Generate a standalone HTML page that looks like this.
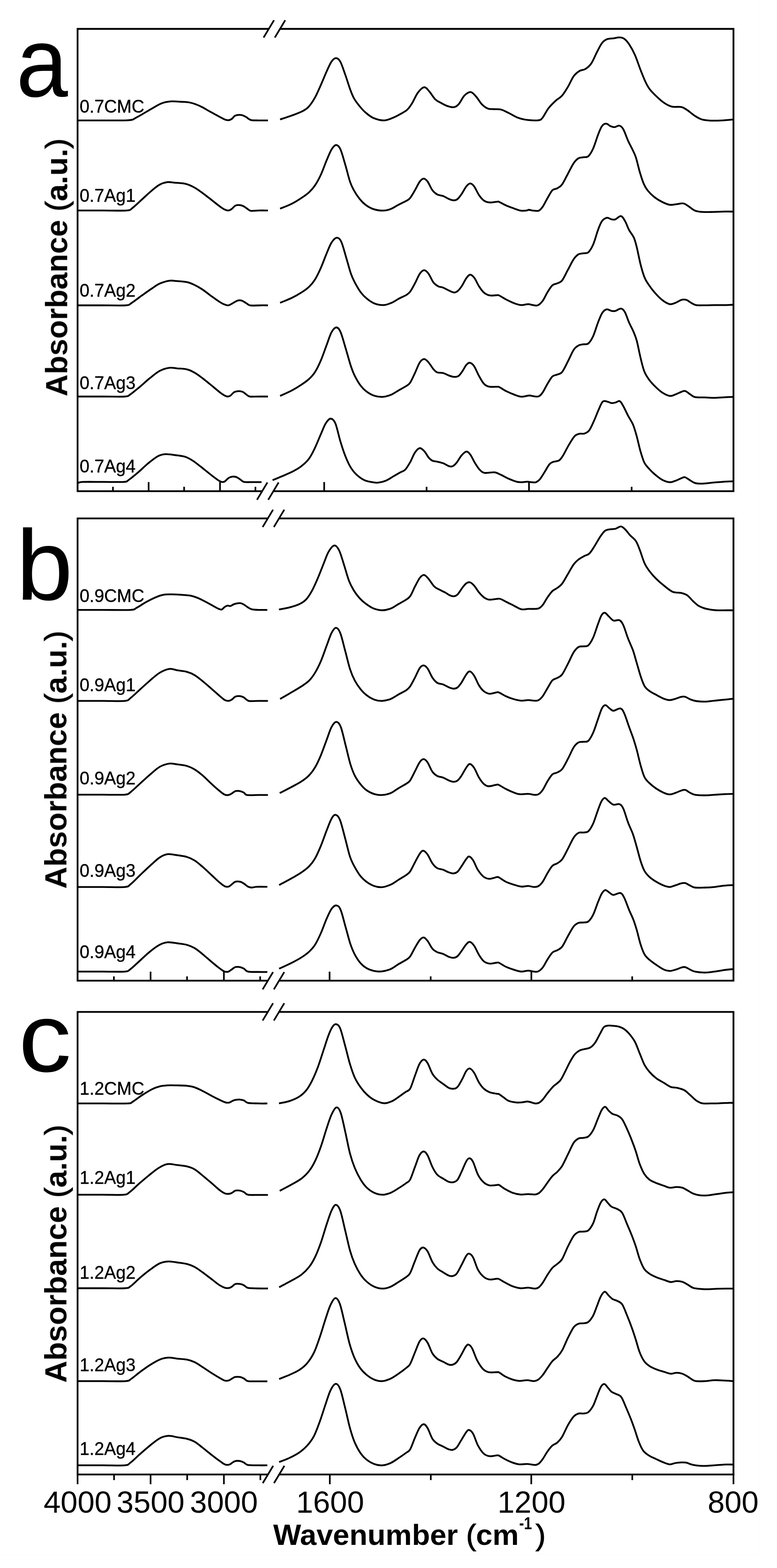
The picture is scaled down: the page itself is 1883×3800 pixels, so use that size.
<!DOCTYPE html>
<html lang="en">
<head>
<meta charset="utf-8">
<title>FTIR spectra</title>
<style>
html,body{margin:0;padding:0;background:#fff;}
body{width:1883px;height:3800px;overflow:hidden;}
svg{display:block;position:absolute;left:0;top:0;}
text{font-family:"Liberation Sans",Arial,Helvetica,sans-serif;fill:#000;}
.fr{fill:none;stroke:#000;stroke-width:4.30;stroke-linecap:butt;stroke-linejoin:miter;}
.sl{stroke-width:4.1;}
.tc{stroke-width:4.0;}
.cv{fill:none;stroke:#000;stroke-width:4.30;stroke-linecap:butt;stroke-linejoin:round;}
.pl{font-size:244px;}
.yl{font-size:73.5px;font-weight:bold;}
.xl{font-size:70.5px;font-weight:bold;}
.tk{font-size:74px;}
.lb{font-size:44px;stroke:#000;stroke-width:0.5px;}
.sup{font-size:42px;font-weight:bold;}
.rg{font-weight:normal;stroke:#000;stroke-width:1.5px;}
</style>
</head>
<body>
<svg width="1883" height="3800" viewBox="0 0 1883 3800">
<defs><filter id="soft" x="0" y="0" width="1883" height="3800" filterUnits="userSpaceOnUse"><feGaussianBlur stdDeviation="0.7"/></filter></defs>
<rect x="0" y="0" width="1883" height="3800" fill="#fff"/>
<path d="M1840.5 0V3767.5H0" fill="none" stroke="#fdfdfd" stroke-width="3"/>
<g filter="url(#soft)">
<g class="fr">
<path d="M651.4 70.0 H188.0 V1190.3 H635.4"/>
<path d="M678.6 70.0 H1777.5 V1190.3 H662.6"/>
<path class="sl" d="M638.8 91.0 L664.0 49.0"/>
<path class="sl" d="M666.0 91.0 L691.2 49.0"/>
<path class="sl" d="M622.8 1211.3 L648.0 1169.3"/>
<path class="sl" d="M650.0 1211.3 L675.2 1169.3"/>
<path class="tc" d="M360.2 1190.3V1168.3M533.2 1190.3V1168.3M785.6 1190.3V1168.3M1282.0 1190.3V1168.3M273.7 1190.3V1179.8M446.2 1190.3V1179.8M619.0 1190.3V1179.8M1033.8 1190.3V1179.8M1530.7 1190.3V1179.8"/>
</g>
<g class="cv">
<path d="M189.4 291.8C199.6 291.8 230.2 291.9 250.5 291.8C270.9 291.7 298.3 292.5 311.7 291.3C325.0 290.2 321.1 289.5 330.5 284.8C339.9 280.1 357.9 268.9 368.1 263.1C378.3 257.4 383.8 253.3 391.6 250.4C399.4 247.5 407.3 246.4 415.1 245.7C422.9 245.1 430.8 246.1 438.6 246.7C446.5 247.2 454.3 247.2 462.1 249.0C470.0 250.8 477.8 253.9 485.6 257.5C493.5 261.1 501.3 266.3 509.2 270.7C517.0 275.0 526.8 280.2 532.7 283.4C538.5 286.5 540.9 288.1 544.4 289.5C547.9 290.8 550.9 291.6 553.8 291.3C556.7 291.1 559.1 289.9 561.8 288.1C564.6 286.2 566.5 281.6 570.3 280.1C574.0 278.5 580.1 278.1 584.4 278.7C588.7 279.2 593.0 281.7 596.1 283.4C599.3 285.0 600.8 287.2 603.2 288.5C605.5 289.9 606.3 290.8 610.3 291.3C614.2 291.9 620.2 291.7 626.7 291.8C633.2 291.9 645.5 291.8 649.3 291.8"/>
<path d="M678.8 289.5C683.5 287.9 698.4 283.2 707.0 280.1C715.6 276.9 723.9 274.0 730.5 270.7C737.2 267.3 741.5 265.6 747.0 259.8C752.5 254.1 758.4 245.3 763.4 236.3C768.5 227.3 772.9 216.3 777.6 205.8C782.3 195.2 787.4 182.3 791.7 172.9C796.0 163.4 799.7 154.7 803.4 149.3C807.2 144.0 810.7 140.9 814.2 140.9C817.8 140.9 820.9 142.8 824.6 149.3C828.3 155.8 832.4 168.9 836.3 179.9C840.3 190.9 844.6 205.5 848.1 215.2C851.6 224.8 853.6 230.7 857.5 237.7C861.4 244.8 866.9 251.7 871.6 257.5C876.3 263.3 880.2 267.8 885.7 272.5C891.2 277.2 897.1 282.5 904.5 285.7C912.0 288.9 922.5 291.8 930.4 291.8C938.2 291.8 944.9 288.3 951.5 285.7C958.2 283.1 964.5 279.6 970.3 276.3C976.2 273.0 982.1 270.3 986.8 266.0C991.5 261.6 994.2 257.3 998.6 250.4C1002.9 243.5 1007.7 231.1 1012.7 224.6C1017.6 218.1 1023.5 211.8 1028.2 211.4C1032.9 211.0 1036.4 217.3 1040.9 222.2C1045.3 227.2 1050.3 236.5 1055.0 241.0C1059.7 245.6 1064.4 246.9 1069.1 249.5C1073.8 252.1 1078.1 254.8 1083.2 256.6C1088.3 258.3 1095.0 260.5 1099.7 259.8C1104.4 259.2 1107.1 257.5 1111.4 252.8C1115.7 248.1 1120.7 236.6 1125.5 231.6C1130.4 226.7 1135.9 222.8 1140.6 223.2C1145.3 223.6 1149.2 229.0 1153.7 234.0C1158.3 238.9 1163.1 247.9 1167.8 252.8C1172.5 257.6 1177.2 261.2 1181.9 263.1C1186.6 265.1 1190.7 264.2 1196.1 264.5C1201.4 264.9 1208.0 263.9 1214.1 265.5C1220.3 267.1 1225.9 270.6 1232.9 273.9C1240.0 277.3 1248.6 282.9 1256.4 285.7C1264.3 288.5 1271.7 289.9 1279.9 290.9C1288.2 291.8 1299.9 292.4 1305.8 291.3C1311.7 290.3 1311.3 289.6 1315.2 284.8C1319.1 279.9 1324.2 268.9 1329.3 262.2C1334.4 255.5 1340.3 249.9 1345.8 244.8C1351.3 239.7 1357.1 237.4 1362.2 231.6C1367.3 225.9 1371.6 218.3 1376.3 210.5C1381.0 202.6 1385.7 191.0 1390.4 184.6C1395.1 178.2 1399.8 174.8 1404.5 171.9C1409.2 169.0 1413.9 170.2 1418.7 167.2C1423.4 164.2 1428.1 160.9 1432.8 154.0C1437.5 147.1 1442.6 134.1 1446.9 125.8C1451.2 117.6 1454.7 109.8 1458.6 104.7C1462.5 99.6 1465.7 97.2 1470.4 95.3C1475.1 93.3 1481.7 93.7 1486.8 92.9C1491.9 92.1 1496.6 90.4 1500.9 90.6C1505.3 90.7 1508.8 91.1 1512.7 93.9C1516.6 96.6 1520.1 100.5 1524.5 107.0C1528.8 113.5 1533.9 122.3 1538.6 132.9C1543.3 143.5 1548.4 159.5 1552.7 170.5C1557.0 181.5 1560.9 191.3 1564.4 198.7C1567.9 206.2 1569.5 209.5 1573.8 215.2C1578.1 220.9 1584.4 227.4 1590.3 233.0C1596.2 238.7 1602.8 244.8 1609.1 249.0C1615.4 253.3 1620.8 256.7 1627.9 258.4C1635.0 260.2 1645.1 258.0 1651.4 259.4C1657.7 260.8 1660.0 263.3 1665.5 266.9C1671.0 270.5 1678.4 277.2 1684.3 281.0C1690.2 284.8 1694.5 287.6 1700.8 289.5C1707.1 291.3 1713.7 291.9 1721.9 292.3C1730.2 292.7 1740.9 292.3 1750.2 291.8C1759.4 291.3 1772.9 289.9 1777.4 289.5"/>
<path d="M189.4 510.1C199.6 510.1 230.9 510.1 250.5 510.1C270.1 510.1 295.2 511.1 307.0 510.1C318.7 509.0 314.8 508.5 321.1 503.9C327.3 499.4 336.7 489.8 344.6 482.8C352.4 475.7 361.0 467.5 368.1 461.6C375.1 455.8 380.6 450.9 386.9 447.5C393.2 444.2 399.4 442.2 405.7 441.4C412.0 440.6 417.5 442.2 424.5 442.8C431.6 443.4 441.0 443.6 448.0 445.2C455.1 446.7 460.6 449.1 466.8 452.2C473.1 455.4 478.6 459.0 485.6 464.0C492.7 468.9 501.3 475.8 509.2 481.8C517.0 487.9 526.8 495.9 532.7 500.2C538.5 504.5 540.9 506.1 544.4 507.7C547.9 509.4 550.9 510.3 553.8 510.1C556.7 509.8 559.1 508.3 561.8 506.3C564.6 504.3 567.3 499.9 570.3 498.3C573.3 496.7 576.6 496.7 579.7 496.9C582.8 497.1 586.0 497.8 589.1 499.2C592.2 500.7 595.4 503.4 598.5 505.4C601.6 507.3 603.2 510.2 607.9 511.0C612.6 511.8 619.8 510.2 626.7 510.1C633.6 509.9 645.5 510.1 649.3 510.1"/>
<path d="M678.8 505.7C683.5 503.7 698.4 498.3 707.0 493.9C715.6 489.6 723.5 484.5 730.5 479.8C737.6 475.1 743.9 470.8 749.3 465.7C754.8 460.6 758.7 456.3 763.4 449.3C768.2 442.2 772.9 433.6 777.6 423.4C782.3 413.2 787.4 398.3 791.7 388.2C796.0 378.0 799.7 368.4 803.4 362.3C807.2 356.2 810.7 351.7 814.2 351.5C817.8 351.2 820.9 353.2 824.6 360.9C828.3 368.6 832.4 384.4 836.3 397.6C840.3 410.7 844.6 429.3 848.1 439.9C851.6 450.5 853.6 454.0 857.5 461.0C861.4 468.1 866.9 476.3 871.6 482.2C876.3 488.1 880.2 492.2 885.7 496.3C891.2 500.4 897.5 504.3 904.5 506.6C911.6 509.0 921.0 510.4 928.0 510.4C935.1 510.4 940.6 509.0 946.8 506.6C953.1 504.3 959.4 499.6 965.6 496.3C971.9 493.0 979.7 489.6 984.5 486.9C989.2 484.2 990.3 484.2 993.9 479.8C997.4 475.5 1001.7 467.7 1005.6 461.0C1009.5 454.4 1013.8 444.6 1017.4 439.9C1020.9 435.2 1023.6 432.8 1026.8 432.8C1029.9 432.8 1032.6 435.2 1036.2 439.9C1039.7 444.6 1044.0 455.8 1047.9 461.0C1051.8 466.3 1055.4 469.0 1059.7 471.4C1064.0 473.7 1069.1 473.3 1073.8 475.1C1078.5 476.9 1083.6 480.5 1087.9 482.2C1092.2 483.9 1096.1 485.5 1099.7 485.5C1103.2 485.5 1105.9 484.7 1109.1 482.2C1112.2 479.7 1114.9 475.5 1118.5 470.4C1122.0 465.3 1126.7 455.9 1130.2 451.6C1133.7 447.3 1136.5 444.6 1139.6 444.6C1142.8 444.6 1145.5 446.9 1149.0 451.6C1152.6 456.3 1156.9 467.1 1160.8 472.8C1164.7 478.5 1168.2 483.0 1172.5 486.0C1176.8 488.9 1181.3 490.2 1186.6 490.7C1192.0 491.1 1200.9 489.0 1204.7 488.8C1208.5 488.5 1205.5 487.6 1209.4 489.2C1213.3 490.9 1221.9 495.9 1228.2 498.7C1234.5 501.4 1241.5 503.7 1247.0 505.7C1252.5 507.7 1256.4 509.6 1261.1 510.4C1265.8 511.2 1271.7 510.7 1275.2 510.4C1278.8 510.1 1279.5 508.5 1282.3 508.5C1285.0 508.5 1287.8 510.1 1291.7 510.4C1295.6 510.7 1301.9 512.0 1305.8 510.4C1309.7 508.8 1311.7 506.1 1315.2 501.0C1318.7 495.9 1323.0 486.5 1327.0 479.8C1330.9 473.2 1334.8 465.0 1338.7 461.0C1342.6 457.1 1346.6 458.7 1350.5 456.3C1354.4 454.0 1357.9 452.8 1362.2 446.9C1366.5 441.1 1371.6 429.7 1376.3 421.1C1381.0 412.4 1386.1 401.5 1390.4 395.2C1394.7 388.9 1398.3 385.8 1402.2 383.4C1406.1 381.1 1410.0 381.9 1413.9 381.1C1417.9 380.3 1421.8 382.3 1425.7 378.7C1429.6 375.2 1433.5 368.6 1437.5 359.9C1441.4 351.3 1445.7 336.0 1449.2 327.0C1452.7 318.0 1455.3 310.4 1458.6 305.9C1461.9 301.3 1465.4 299.7 1469.0 299.7C1472.5 299.7 1476.4 304.5 1479.8 305.9C1483.2 307.3 1485.7 308.4 1489.2 308.2C1492.7 308.0 1497.4 303.7 1500.9 304.5C1504.5 305.2 1506.8 306.8 1510.3 312.9C1513.9 319.0 1518.6 333.3 1522.1 341.1C1525.6 349.0 1528.4 353.3 1531.5 359.9C1534.6 366.6 1537.8 371.7 1540.9 381.1C1544.0 390.5 1547.2 405.8 1550.3 416.4C1553.4 426.9 1556.6 437.1 1559.7 444.6C1562.9 452.0 1564.8 455.5 1569.1 461.0C1573.4 466.5 1579.7 472.8 1585.6 477.5C1591.5 482.2 1598.1 486.1 1604.4 489.2C1610.7 492.4 1617.3 495.4 1623.2 496.3C1629.1 497.2 1634.2 495.4 1639.7 494.9C1645.1 494.3 1651.0 492.0 1656.1 493.0C1661.2 494.0 1665.5 498.1 1670.2 501.0C1674.9 503.9 1678.8 508.3 1684.3 510.4C1689.8 512.5 1696.1 513.2 1703.1 513.7C1710.2 514.2 1718.8 513.9 1726.6 513.7C1734.5 513.5 1741.7 512.9 1750.2 512.8C1758.6 512.6 1772.9 512.8 1777.4 512.8"/>
<path d="M189.4 740.0C199.6 740.0 231.3 740.0 250.5 740.0C269.7 740.0 293.2 740.9 304.6 740.0C316.0 739.1 312.1 738.4 318.7 734.4C325.4 730.3 336.3 721.4 344.6 715.5C352.8 709.7 361.0 703.8 368.1 699.1C375.1 694.4 379.8 690.5 386.9 687.3C393.9 684.2 403.4 681.3 410.4 680.3C417.5 679.3 422.2 680.7 429.2 681.2C436.3 681.8 445.7 682.0 452.7 683.6C459.8 685.1 465.3 687.6 471.5 690.6C477.8 693.6 483.3 696.7 490.3 701.4C497.4 706.1 506.8 713.7 513.9 718.8C520.9 723.9 527.6 728.8 532.7 732.0C537.8 735.2 540.9 736.8 544.4 738.1C547.9 739.5 550.7 740.5 553.8 740.0C557.0 739.5 559.7 737.2 563.2 735.3C566.8 733.4 571.5 729.9 575.0 728.7C578.5 727.5 581.3 727.5 584.4 728.2C587.5 728.9 590.7 731.1 593.8 732.9C596.9 734.7 600.5 737.8 603.2 739.1C605.9 740.3 605.5 740.3 610.3 740.5C615.0 740.6 624.9 740.1 631.4 740.0C637.9 739.9 646.3 740.0 649.3 740.0"/>
<path d="M678.8 733.8C683.5 731.8 698.4 726.2 707.0 722.0C715.6 717.9 723.5 713.4 730.5 708.8C737.6 704.3 743.9 700.0 749.3 694.7C754.8 689.5 758.7 684.9 763.4 677.3C768.2 669.7 772.9 659.7 777.6 649.1C782.3 638.5 787.4 624.0 791.7 613.9C796.0 603.7 799.3 594.3 803.4 588.0C807.5 581.7 812.2 576.6 816.1 576.2C820.0 575.8 823.2 577.8 826.9 585.6C830.7 593.5 834.8 610.3 838.7 623.3C842.6 636.2 846.9 653.0 850.4 663.2C854.0 673.4 855.9 676.9 859.8 684.4C863.8 691.8 869.2 701.5 873.9 707.9C878.7 714.3 882.6 718.4 888.1 722.9C893.5 727.5 900.0 732.4 906.9 735.2C913.7 737.9 921.9 739.6 929.0 739.4C936.0 739.2 943.1 736.3 949.2 733.8C955.3 731.3 959.8 727.5 965.6 724.4C971.5 721.2 979.7 717.9 984.5 715.0C989.2 712.1 990.3 711.7 993.9 707.0C997.4 702.3 1001.7 694.0 1005.6 686.7C1009.5 679.5 1013.6 668.6 1017.4 663.2C1021.1 657.9 1024.7 654.8 1028.2 654.8C1031.7 654.8 1034.8 658.3 1038.5 663.2C1042.2 668.2 1046.4 679.3 1050.3 684.4C1054.2 689.5 1058.1 691.7 1062.0 693.8C1066.0 695.9 1069.5 695.4 1073.8 697.1C1078.1 698.8 1083.4 702.2 1087.9 704.1C1092.4 706.1 1096.9 708.8 1100.6 708.8C1104.3 708.9 1106.9 707.3 1110.0 704.6C1113.1 701.9 1116.0 697.9 1119.4 692.9C1122.8 687.8 1126.8 678.6 1130.2 674.0C1133.6 669.5 1136.3 665.6 1139.6 665.6C1142.9 665.6 1146.4 669.3 1150.0 674.0C1153.5 678.7 1157.0 688.0 1160.8 693.8C1164.5 699.6 1168.2 705.2 1172.5 708.8C1176.8 712.5 1181.3 714.8 1186.6 715.9C1192.0 717.0 1200.9 715.4 1204.7 715.4C1208.5 715.4 1205.5 714.0 1209.4 715.9C1213.3 717.8 1221.9 723.5 1228.2 726.7C1234.5 729.9 1241.1 733.1 1247.0 735.2C1252.9 737.3 1258.0 739.1 1263.5 739.4C1269.0 739.7 1275.2 737.1 1279.9 737.1C1284.6 737.1 1287.8 738.9 1291.7 739.4C1295.6 739.9 1299.5 741.6 1303.4 739.9C1307.4 738.2 1311.3 734.4 1315.2 729.1C1319.1 723.7 1323.0 714.2 1327.0 707.9C1330.9 701.6 1334.8 695.0 1338.7 691.4C1342.6 687.9 1346.6 688.7 1350.5 686.7C1354.4 684.8 1357.9 685.2 1362.2 679.7C1366.5 674.2 1371.6 662.4 1376.3 653.8C1381.0 645.2 1386.1 634.2 1390.4 628.0C1394.7 621.7 1398.3 618.6 1402.2 616.2C1406.1 613.9 1410.0 614.6 1413.9 613.9C1417.9 613.1 1421.8 615.0 1425.7 611.5C1429.6 608.0 1433.5 601.7 1437.5 592.7C1441.4 583.7 1445.7 566.8 1449.2 557.4C1452.7 548.0 1455.1 541.2 1458.6 536.3C1462.1 531.3 1466.5 528.6 1470.4 527.8C1474.3 527.0 1478.6 530.9 1482.1 531.6C1485.7 532.2 1487.8 532.9 1491.5 531.6C1495.3 530.2 1500.8 522.8 1504.7 523.6C1508.6 524.4 1511.8 530.6 1515.0 536.3C1518.3 541.9 1520.9 550.8 1524.5 557.4C1528.0 564.1 1533.1 569.2 1536.2 576.2C1539.3 583.3 1540.5 588.8 1543.3 599.7C1546.0 610.7 1549.5 629.9 1552.7 642.1C1555.8 654.2 1558.9 664.8 1562.1 672.6C1565.2 680.5 1567.6 683.2 1571.5 689.1C1575.4 695.0 1580.1 701.6 1585.6 707.9C1591.1 714.2 1598.1 721.8 1604.4 726.7C1610.7 731.6 1617.7 735.9 1623.2 737.1C1628.7 738.2 1632.6 735.5 1637.3 733.8C1642.0 732.0 1647.1 727.9 1651.4 726.7C1655.7 725.5 1659.2 725.5 1663.2 726.7C1667.1 727.9 1671.0 731.6 1674.9 733.8C1678.8 735.9 1681.2 738.4 1686.7 739.4C1692.2 740.4 1700.4 739.9 1707.8 739.9C1715.3 739.9 1723.5 739.5 1731.3 739.4C1739.2 739.3 1747.2 739.6 1754.9 739.4C1762.5 739.2 1773.7 738.6 1777.4 738.5"/>
<path d="M189.4 961.0C199.6 961.0 231.7 961.0 250.5 961.0C269.3 961.0 291.3 961.9 302.3 961.0C313.2 960.1 310.1 959.4 316.4 955.4C322.6 951.3 332.0 943.1 339.9 936.6C347.7 930.0 355.5 922.6 363.4 916.3C371.2 910.1 379.1 903.1 386.9 898.9C394.7 894.8 403.4 892.4 410.4 891.4C417.5 890.4 422.2 892.2 429.2 892.8C436.3 893.4 445.7 893.4 452.7 895.2C459.8 896.9 465.3 899.6 471.5 903.2C477.8 906.7 483.3 911.0 490.3 916.3C497.4 921.7 506.8 929.4 513.9 935.1C520.9 940.9 527.6 946.7 532.7 950.7C537.8 954.6 541.3 956.9 544.4 958.7C547.6 960.4 549.1 961.0 551.5 961.0C553.8 961.0 555.8 960.5 558.5 958.7C561.3 956.8 564.4 952.0 567.9 950.2C571.5 948.4 576.2 947.8 579.7 947.8C583.2 947.8 586.0 948.6 589.1 950.2C592.2 951.8 595.8 955.4 598.5 957.2C601.2 959.0 600.8 960.4 605.5 961.0C610.3 961.6 619.4 961.0 626.7 961.0C634.0 961.0 645.5 961.0 649.3 961.0"/>
<path d="M678.8 959.5C683.5 957.3 698.4 950.8 707.0 946.3C715.6 941.8 723.5 936.9 730.5 932.2C737.6 927.5 743.9 923.2 749.3 918.1C754.8 913.0 758.7 909.1 763.4 901.6C768.2 894.2 772.9 884.4 777.6 873.4C782.3 862.4 787.4 847.2 791.7 835.8C796.0 824.4 799.5 812.3 803.4 805.2C807.3 798.2 811.5 793.5 815.2 793.5C818.9 793.5 821.6 796.2 825.5 805.2C829.4 814.2 834.5 833.8 838.7 847.6C842.8 861.3 846.9 876.9 850.4 887.5C854.0 898.1 855.9 903.2 859.8 911.0C863.8 918.9 869.2 928.3 873.9 934.5C878.7 940.8 882.6 944.6 888.1 948.7C893.5 952.7 900.4 956.8 906.9 959.0C913.4 961.2 920.4 962.1 927.1 961.8C933.7 961.5 940.4 959.7 946.8 957.1C953.3 954.5 959.4 949.9 965.6 946.3C971.9 942.7 979.7 938.6 984.5 935.5C989.2 932.4 990.3 932.7 993.9 927.5C997.4 922.2 1001.7 912.2 1005.6 904.0C1009.5 895.8 1013.6 883.8 1017.4 878.1C1021.1 872.5 1024.7 870.1 1028.2 870.1C1031.7 870.1 1034.8 874.0 1038.5 878.1C1042.2 882.2 1046.8 890.5 1050.3 894.6C1053.8 898.7 1055.8 901.0 1059.7 902.6C1063.6 904.1 1069.1 902.7 1073.8 904.0C1078.5 905.2 1083.4 908.5 1087.9 910.1C1092.4 911.7 1096.7 913.2 1100.6 913.4C1104.5 913.5 1108.0 913.4 1111.4 911.0C1114.8 908.7 1117.7 903.7 1120.8 899.3C1123.9 894.8 1127.2 887.6 1130.2 884.2C1133.2 880.9 1135.5 878.5 1138.7 879.1C1141.8 879.6 1145.3 882.2 1149.0 887.5C1152.7 892.9 1156.9 904.0 1160.8 911.0C1164.7 918.1 1168.6 925.5 1172.5 929.8C1176.5 934.2 1178.9 935.6 1184.3 936.9C1189.7 938.2 1200.5 937.2 1204.7 937.4C1208.9 937.5 1205.5 936.0 1209.4 937.8C1213.3 939.7 1221.9 945.5 1228.2 948.7C1234.5 951.8 1241.1 954.5 1247.0 956.6C1252.9 958.8 1257.6 961.0 1263.5 961.3C1269.4 961.7 1277.2 958.7 1282.3 958.5C1287.4 958.4 1290.1 960.1 1294.0 960.4C1298.0 960.7 1302.3 962.0 1305.8 960.4C1309.3 958.8 1311.7 956.1 1315.2 951.0C1318.7 945.9 1323.0 936.3 1327.0 929.8C1330.9 923.4 1334.8 916.1 1338.7 912.4C1342.6 908.8 1346.6 909.5 1350.5 907.7C1354.4 905.9 1357.9 907.0 1362.2 901.6C1366.5 896.3 1371.6 884.8 1376.3 875.8C1381.0 866.8 1386.1 854.0 1390.4 847.6C1394.7 841.1 1398.3 839.4 1402.2 837.2C1406.1 835.0 1410.0 835.2 1413.9 834.4C1417.9 833.6 1421.8 835.8 1425.7 832.5C1429.6 829.2 1433.5 823.1 1437.5 814.6C1441.4 806.2 1445.5 791.1 1449.2 781.7C1452.9 772.3 1456.0 763.5 1459.6 758.2C1463.1 752.9 1466.6 750.5 1470.4 749.7C1474.1 749.0 1478.6 752.9 1482.1 753.5C1485.7 754.1 1487.8 754.5 1491.5 753.5C1495.3 752.6 1500.9 747.5 1504.7 747.9C1508.5 748.3 1510.8 750.2 1514.1 755.9C1517.4 761.5 1521.0 773.9 1524.5 781.7C1527.9 789.6 1531.7 795.4 1534.8 802.9C1537.9 810.3 1540.3 815.4 1543.3 826.4C1546.2 837.4 1549.7 856.6 1552.7 868.7C1555.6 880.9 1558.0 891.1 1561.1 899.3C1564.3 907.5 1567.4 912.2 1571.5 918.1C1575.5 924.0 1580.1 929.1 1585.6 934.5C1591.1 940.0 1598.1 946.8 1604.4 951.0C1610.7 955.2 1617.7 958.7 1623.2 959.5C1628.7 960.3 1632.6 957.4 1637.3 955.7C1642.0 954.1 1647.5 950.9 1651.4 949.6C1655.3 948.3 1657.3 946.7 1660.8 947.7C1664.3 948.7 1668.7 953.3 1672.6 955.7C1676.5 958.1 1678.4 961.0 1684.3 962.3C1690.2 963.5 1700.0 962.9 1707.8 963.2C1715.7 963.5 1723.5 964.2 1731.3 964.2C1739.2 964.1 1747.2 963.2 1754.9 962.8C1762.5 962.4 1773.7 962.0 1777.4 961.8"/>
<path d="M189.4 1170.3C191.4 1169.9 191.0 1168.3 201.2 1167.9C211.3 1167.5 234.1 1167.9 250.5 1167.9C267.0 1167.9 289.7 1168.7 299.9 1167.9C310.1 1167.1 305.8 1167.1 311.7 1163.2C317.5 1159.3 327.3 1151.1 335.2 1144.4C343.0 1137.7 350.8 1129.7 358.7 1123.2C366.5 1116.8 375.1 1109.6 382.2 1105.8C389.2 1102.1 393.9 1101.1 401.0 1100.7C408.1 1100.2 416.7 1102.0 424.5 1103.0C432.4 1104.0 441.0 1104.6 448.0 1106.8C455.1 1109.0 460.6 1112.3 466.8 1116.2C473.1 1120.1 478.6 1124.8 485.6 1130.3C492.7 1135.8 502.1 1143.6 509.2 1149.1C516.2 1154.6 523.3 1160.1 528.0 1163.2C532.7 1166.3 534.6 1167.3 537.4 1167.9C540.1 1168.5 541.7 1168.5 544.4 1167.0C547.2 1165.4 550.7 1160.5 553.8 1158.5C557.0 1156.5 560.1 1155.6 563.2 1155.2C566.4 1154.8 569.5 1155.0 572.6 1156.1C575.8 1157.2 578.9 1159.8 582.0 1161.8C585.2 1163.7 586.3 1166.8 591.4 1167.9C596.5 1169.0 605.5 1168.3 612.6 1168.4C619.7 1168.4 630.2 1168.4 633.8 1168.4"/>
<path d="M660.6 1163.7C665.1 1161.8 679.5 1156.0 688.0 1152.3C696.6 1148.6 704.6 1145.2 711.7 1141.4C718.8 1137.7 724.3 1134.8 730.5 1129.7C736.8 1124.6 743.9 1118.3 749.3 1110.9C754.8 1103.4 758.7 1094.8 763.4 1085.0C768.2 1075.2 773.2 1061.9 777.6 1052.1C781.9 1042.3 785.4 1032.5 789.3 1026.2C793.2 1020.0 797.1 1014.5 801.1 1014.5C805.0 1014.5 808.9 1017.2 812.8 1026.2C816.7 1035.3 820.7 1055.6 824.6 1068.6C828.5 1081.5 832.4 1093.6 836.3 1103.8C840.3 1114.0 843.8 1122.2 848.1 1129.7C852.4 1137.1 856.7 1143.0 862.2 1148.5C867.7 1154.0 874.7 1159.3 881.0 1162.6C887.3 1165.9 893.9 1167.1 899.8 1168.2C905.7 1169.4 910.4 1170.2 916.3 1169.7C922.1 1169.1 929.2 1167.3 935.1 1165.0C941.0 1162.6 945.7 1158.9 951.5 1155.5C957.4 1152.2 965.3 1147.6 970.3 1144.7C975.4 1141.8 978.2 1142.2 982.1 1138.2C986.0 1134.1 989.9 1127.2 993.9 1120.3C997.8 1113.4 1001.7 1102.5 1005.6 1096.8C1009.5 1091.1 1013.4 1086.3 1017.4 1086.0C1021.3 1085.6 1025.6 1090.7 1029.1 1094.4C1032.6 1098.2 1035.4 1104.8 1038.5 1108.5C1041.7 1112.2 1044.4 1114.8 1047.9 1116.5C1051.5 1118.2 1055.4 1117.9 1059.7 1118.9C1064.0 1119.9 1069.1 1120.8 1073.8 1122.6C1078.5 1124.4 1084.0 1128.5 1087.9 1129.7C1091.8 1130.9 1094.2 1131.1 1097.3 1129.7C1100.4 1128.3 1103.2 1125.5 1106.7 1121.2C1110.2 1116.9 1114.5 1108.3 1118.5 1103.8C1122.4 1099.4 1126.7 1094.8 1130.2 1094.4C1133.7 1094.0 1136.1 1096.8 1139.6 1101.5C1143.2 1106.2 1147.5 1116.4 1151.4 1122.6C1155.3 1128.9 1159.2 1135.2 1163.1 1139.1C1167.1 1143.0 1169.0 1145.2 1174.9 1146.1C1180.8 1147.1 1191.9 1143.9 1198.4 1144.7C1204.9 1145.5 1208.4 1148.3 1214.1 1150.8C1219.9 1153.4 1226.6 1157.5 1232.9 1160.3C1239.2 1163.0 1246.2 1165.9 1251.7 1167.3C1257.2 1168.7 1261.5 1168.7 1265.8 1168.7C1270.1 1168.7 1273.7 1167.3 1277.6 1167.3C1281.5 1167.3 1285.8 1168.5 1289.3 1168.7C1292.9 1168.9 1295.6 1169.9 1298.7 1168.7C1301.9 1167.5 1304.6 1165.8 1308.2 1161.7C1311.7 1157.5 1316.0 1149.9 1319.9 1143.8C1323.8 1137.7 1328.1 1129.1 1331.7 1125.0C1335.2 1120.9 1337.1 1120.9 1341.1 1119.3C1345.0 1117.8 1351.3 1118.2 1355.2 1115.6C1359.1 1113.0 1360.7 1110.1 1364.6 1103.8C1368.5 1097.6 1374.0 1085.8 1378.7 1078.0C1383.4 1070.1 1388.5 1061.3 1392.8 1056.8C1397.1 1052.3 1400.6 1052.2 1404.5 1051.2C1408.5 1050.1 1412.4 1052.1 1416.3 1050.7C1420.2 1049.3 1424.1 1047.9 1428.1 1042.7C1432.0 1037.4 1435.9 1027.8 1439.8 1019.2C1443.7 1010.6 1448.0 998.7 1451.6 991.0C1455.1 983.3 1457.4 976.0 1461.0 973.1C1464.5 970.2 1469.2 972.9 1472.7 973.6C1476.3 974.2 1479.0 976.6 1482.1 976.9C1485.3 977.2 1488.2 976.2 1491.5 975.5C1494.8 974.7 1498.7 970.8 1501.9 972.2C1505.0 973.6 1507.0 978.0 1510.3 983.9C1513.7 989.8 1518.2 1000.0 1522.1 1007.4C1526.0 1014.9 1530.5 1020.8 1533.9 1028.6C1537.2 1036.4 1539.3 1043.9 1542.3 1054.5C1545.3 1065.0 1548.6 1081.1 1551.7 1092.1C1554.9 1103.0 1557.8 1113.2 1561.1 1120.3C1564.4 1127.3 1567.4 1129.7 1571.5 1134.4C1575.5 1139.1 1580.1 1143.8 1585.6 1148.5C1591.1 1153.2 1598.1 1159.2 1604.4 1162.6C1610.7 1166.0 1617.7 1168.3 1623.2 1168.7C1628.7 1169.1 1632.6 1166.6 1637.3 1165.0C1642.0 1163.3 1647.6 1160.3 1651.4 1158.8C1655.2 1157.4 1656.7 1155.9 1659.9 1156.5C1663.0 1157.1 1666.1 1160.3 1670.2 1162.6C1674.3 1165.0 1678.8 1169.0 1684.3 1170.6C1689.8 1172.2 1696.1 1172.2 1703.1 1172.0C1710.2 1171.8 1718.0 1170.4 1726.6 1169.7C1735.3 1168.9 1746.4 1167.9 1754.9 1167.3C1763.3 1166.8 1773.7 1166.5 1777.4 1166.4"/>
</g>
<text class="lb" transform="translate(193.0 272.7) scale(0.9720 1)">0.7CMC</text>
<text class="lb" transform="translate(193.0 489.0) scale(0.9720 1)">0.7Ag1</text>
<text class="lb" transform="translate(193.0 719.4) scale(0.9720 1)">0.7Ag2</text>
<text class="lb" transform="translate(193.0 943.2) scale(0.9720 1)">0.7Ag3</text>
<text class="lb" transform="translate(193.0 1145.3) scale(0.9720 1)">0.7Ag4</text>
<g class="fr">
<path d="M649.1 1256.3 H188.0 V2376.7 H649.1"/>
<path d="M676.3 1256.3 H1777.5 V2376.7 H676.3"/>
<path class="sl" d="M636.5 1277.3 L661.7 1235.3"/>
<path class="sl" d="M663.7 1277.3 L688.9 1235.3"/>
<path class="sl" d="M636.5 2397.7 L661.7 2355.7"/>
<path class="sl" d="M663.7 2397.7 L688.9 2355.7"/>
<path class="tc" d="M364.9 2376.7V2354.7M542.6 2376.7V2354.7M798.7 2376.7V2354.7M1287.7 2376.7V2354.7M276.0 2376.7V2366.2M453.3 2376.7V2366.2M630.5 2376.7V2366.2M1043.7 2376.7V2366.2M1532.1 2376.7V2366.2"/>
</g>
<g class="cv">
<path d="M189.4 1478.1C199.6 1478.1 229.4 1478.1 250.5 1478.1C271.7 1478.1 303.0 1478.8 316.4 1478.1C329.7 1477.3 324.2 1476.5 330.5 1473.4C336.7 1470.2 346.1 1463.6 354.0 1459.2C361.8 1454.9 370.4 1450.5 377.5 1447.5C384.5 1444.5 390.0 1442.6 396.3 1441.4C402.6 1440.2 408.1 1440.4 415.1 1440.4C422.2 1440.4 430.8 1440.8 438.6 1441.4C446.5 1441.9 455.1 1442.3 462.1 1443.7C469.2 1445.1 474.7 1447.3 480.9 1449.8C487.2 1452.4 493.5 1456.0 499.7 1459.2C506.0 1462.5 513.5 1466.8 518.6 1469.6C523.7 1472.3 527.2 1474.5 530.3 1475.7C533.4 1477.0 535.0 1477.9 537.4 1477.1C539.7 1476.3 542.1 1472.6 544.4 1471.0C546.8 1469.4 549.1 1468.1 551.5 1467.7C553.8 1467.3 555.8 1469.3 558.5 1468.7C561.3 1468.0 564.0 1465.1 567.9 1463.9C571.8 1462.8 578.1 1461.4 582.0 1461.6C586.0 1461.8 588.3 1463.6 591.4 1465.4C594.6 1467.1 597.7 1470.1 600.8 1471.9C604.0 1473.8 605.9 1475.6 610.3 1476.6C614.6 1477.7 620.4 1477.8 626.7 1478.1C633.0 1478.3 644.3 1478.1 647.9 1478.1"/>
<path d="M676.1 1477.1C680.5 1476.3 694.0 1474.1 702.3 1471.9C710.6 1469.7 719.2 1467.2 725.8 1463.9C732.5 1460.7 737.2 1457.7 742.3 1452.2C747.4 1446.7 751.7 1439.7 756.4 1431.0C761.1 1422.4 765.8 1411.4 770.5 1400.5C775.2 1389.5 780.3 1375.8 784.6 1365.2C788.9 1354.6 792.1 1344.2 796.4 1337.0C800.7 1329.8 806.2 1322.3 810.5 1321.9C814.8 1321.6 818.3 1326.6 822.2 1334.6C826.1 1342.6 830.1 1357.8 834.0 1369.9C837.9 1382.1 841.8 1397.3 845.7 1407.5C849.7 1417.7 853.2 1424.0 857.5 1431.0C861.8 1438.1 866.9 1444.6 871.6 1449.8C876.3 1455.1 880.2 1458.5 885.7 1462.5C891.2 1466.6 897.9 1471.6 904.5 1474.3C911.2 1477.0 918.6 1478.9 925.7 1479.0C932.7 1479.1 940.2 1477.3 946.8 1474.8C953.5 1472.3 959.8 1467.3 965.6 1463.9C971.5 1460.6 977.4 1457.7 982.1 1454.5C986.8 1451.4 989.9 1450.6 993.9 1445.1C997.8 1439.7 1001.7 1429.1 1005.6 1421.6C1009.5 1414.2 1013.7 1405.2 1017.4 1400.5C1021.1 1395.8 1024.2 1393.0 1027.7 1393.4C1031.2 1393.8 1034.4 1398.1 1038.5 1402.8C1042.7 1407.5 1048.3 1417.3 1052.6 1421.6C1056.9 1425.9 1060.1 1426.3 1064.4 1428.7C1068.7 1431.0 1074.2 1433.4 1078.5 1435.7C1082.8 1438.1 1086.7 1441.2 1090.3 1442.8C1093.8 1444.4 1096.5 1445.5 1099.7 1445.1C1102.8 1444.7 1105.5 1444.0 1109.1 1440.4C1112.6 1436.9 1117.3 1428.4 1120.8 1424.0C1124.3 1419.5 1127.2 1415.8 1130.2 1413.6C1133.2 1411.5 1135.5 1410.3 1138.7 1411.3C1141.8 1412.2 1145.3 1415.2 1149.0 1419.3C1152.7 1423.4 1156.9 1431.0 1160.8 1435.7C1164.7 1440.4 1168.6 1444.6 1172.5 1447.5C1176.5 1450.4 1179.3 1452.4 1184.3 1453.1C1189.3 1453.8 1197.8 1452.0 1202.4 1451.7C1206.9 1451.4 1207.4 1450.0 1211.8 1451.3C1216.1 1452.5 1222.3 1456.3 1228.2 1459.2C1234.1 1462.1 1241.1 1465.8 1247.0 1468.7C1252.9 1471.6 1258.0 1475.5 1263.5 1476.6C1269.0 1477.8 1274.8 1475.9 1279.9 1475.7C1285.0 1475.5 1289.7 1475.9 1294.0 1475.7C1298.4 1475.5 1302.3 1475.9 1305.8 1474.3C1309.3 1472.7 1311.7 1470.8 1315.2 1466.3C1318.7 1461.8 1323.0 1453.1 1327.0 1447.5C1330.9 1441.8 1334.8 1436.2 1338.7 1432.4C1342.6 1428.7 1346.6 1427.9 1350.5 1424.9C1354.4 1421.9 1357.9 1420.2 1362.2 1414.6C1366.5 1408.9 1371.6 1398.9 1376.3 1391.1C1381.0 1383.2 1386.1 1373.4 1390.4 1367.6C1394.7 1361.7 1397.9 1359.2 1402.2 1355.8C1406.5 1352.4 1412.0 1349.7 1416.3 1347.3C1420.6 1345.0 1424.1 1345.4 1428.1 1341.7C1432.0 1338.0 1435.5 1331.9 1439.8 1325.2C1444.1 1318.6 1449.6 1308.2 1453.9 1301.7C1458.2 1295.3 1461.8 1289.8 1465.7 1286.7C1469.6 1283.5 1473.1 1283.8 1477.4 1282.9C1481.7 1282.1 1487.0 1282.7 1491.5 1281.5C1496.1 1280.3 1500.8 1275.6 1504.7 1275.9C1508.6 1276.1 1511.4 1279.4 1515.0 1282.9C1518.7 1286.4 1522.5 1292.3 1526.8 1297.0C1531.1 1301.7 1537.0 1305.3 1540.9 1311.1C1544.8 1317.0 1546.8 1323.3 1550.3 1332.3C1553.8 1341.3 1558.2 1356.6 1562.1 1365.2C1566.0 1373.8 1569.1 1377.7 1573.8 1384.0C1578.5 1390.3 1584.4 1396.9 1590.3 1402.8C1596.2 1408.7 1602.4 1414.0 1609.1 1419.3C1615.8 1424.5 1623.2 1431.3 1630.3 1434.3C1637.3 1437.3 1645.5 1435.7 1651.4 1437.1C1657.3 1438.6 1660.8 1439.5 1665.5 1442.8C1670.2 1446.1 1674.9 1452.6 1679.6 1456.9C1684.3 1461.2 1688.2 1465.5 1693.7 1468.7C1699.2 1471.8 1705.5 1474.0 1712.5 1475.7C1719.6 1477.4 1728.2 1478.4 1736.1 1479.0C1743.9 1479.5 1752.7 1479.0 1759.6 1479.0C1766.5 1479.0 1774.5 1479.0 1777.4 1479.0"/>
<path d="M189.4 1698.7C199.6 1698.7 231.7 1698.7 250.5 1698.7C269.3 1698.7 291.3 1699.8 302.3 1698.7C313.2 1697.5 310.1 1696.3 316.4 1691.6C322.6 1686.9 332.0 1677.5 339.9 1670.4C347.7 1663.4 355.5 1655.9 363.4 1649.3C371.2 1642.6 379.1 1635.2 386.9 1630.5C394.7 1625.8 403.4 1622.1 410.4 1621.1C417.5 1620.0 422.2 1623.2 429.2 1624.4C436.3 1625.5 445.7 1626.2 452.7 1628.1C459.8 1630.1 465.3 1632.4 471.5 1636.1C477.8 1639.8 483.3 1644.5 490.3 1650.2C497.4 1655.9 506.8 1664.3 513.9 1670.4C520.9 1676.6 527.6 1682.6 532.7 1686.9C537.8 1691.2 540.9 1694.3 544.4 1696.3C547.9 1698.3 550.9 1698.8 553.8 1698.7C556.7 1698.5 559.1 1697.1 561.8 1695.4C564.6 1693.6 567.3 1689.7 570.3 1688.3C573.3 1686.9 576.6 1686.7 579.7 1686.9C582.8 1687.1 586.0 1687.7 589.1 1689.2C592.2 1690.8 595.8 1694.7 598.5 1696.3C601.2 1697.9 600.8 1698.7 605.5 1699.1C610.3 1699.5 619.4 1698.7 626.7 1698.7C634.0 1698.6 645.5 1698.7 649.3 1698.7"/>
<path d="M678.8 1693.9C683.5 1691.2 698.4 1682.6 707.0 1677.5C715.6 1672.4 723.5 1668.1 730.5 1663.4C737.6 1658.7 743.9 1654.8 749.3 1649.3C754.8 1643.8 758.7 1638.3 763.4 1630.5C768.2 1622.6 772.9 1613.2 777.6 1602.3C782.3 1591.3 787.4 1576.0 791.7 1564.6C796.0 1553.3 799.7 1541.3 803.4 1534.1C807.2 1526.9 810.7 1521.4 814.2 1521.4C817.8 1521.4 820.9 1524.9 824.6 1534.1C828.3 1543.2 832.4 1561.9 836.3 1576.4C840.3 1590.9 844.2 1608.9 848.1 1621.1C852.0 1633.2 855.5 1641.1 859.8 1649.3C864.2 1657.5 869.2 1664.6 873.9 1670.4C878.7 1676.3 882.6 1680.4 888.1 1684.5C893.5 1688.7 900.6 1693.0 906.9 1695.4C913.1 1697.7 919.0 1698.9 925.7 1698.7C932.3 1698.4 940.2 1696.5 946.8 1693.9C953.5 1691.4 959.4 1686.7 965.6 1683.1C971.9 1679.6 979.7 1676.1 984.5 1672.8C989.2 1669.5 990.3 1668.5 993.9 1663.4C997.4 1658.3 1001.7 1649.7 1005.6 1642.2C1009.5 1634.8 1013.8 1623.7 1017.4 1618.7C1020.9 1613.8 1023.6 1612.4 1026.8 1612.6C1029.9 1612.8 1032.6 1615.2 1036.2 1620.1C1039.7 1625.1 1044.0 1636.4 1047.9 1642.2C1051.8 1648.0 1055.4 1652.2 1059.7 1654.9C1064.0 1657.7 1069.1 1656.9 1073.8 1658.7C1078.5 1660.5 1083.6 1664.0 1087.9 1665.7C1092.2 1667.5 1096.1 1669.0 1099.7 1669.0C1103.2 1669.0 1105.9 1668.2 1109.1 1665.7C1112.2 1663.2 1114.9 1659.2 1118.5 1654.0C1122.0 1648.7 1126.8 1638.7 1130.2 1634.2C1133.6 1629.8 1135.5 1626.6 1138.7 1627.2C1141.8 1627.7 1145.3 1631.9 1149.0 1637.5C1152.7 1643.2 1156.9 1654.8 1160.8 1661.0C1164.7 1667.3 1168.2 1671.8 1172.5 1675.1C1176.8 1678.5 1181.4 1680.8 1186.6 1681.3C1191.8 1681.7 1200.0 1678.3 1203.8 1677.8C1207.6 1677.3 1205.7 1676.7 1209.4 1678.3C1213.1 1679.9 1220.0 1684.6 1225.9 1687.2C1231.7 1689.9 1238.4 1692.5 1244.7 1694.3C1250.9 1696.1 1257.6 1697.7 1263.5 1698.1C1269.4 1698.4 1274.8 1696.6 1279.9 1696.6C1285.0 1696.6 1290.0 1698.0 1294.0 1698.1C1298.1 1698.1 1300.9 1698.9 1304.4 1697.1C1307.9 1695.3 1311.4 1692.2 1315.2 1687.2C1319.0 1682.3 1323.0 1673.9 1327.0 1667.5C1330.9 1661.1 1334.8 1652.8 1338.7 1648.7C1342.6 1644.6 1346.6 1645.4 1350.5 1643.0C1354.4 1640.7 1357.9 1640.3 1362.2 1634.6C1366.5 1628.9 1371.6 1617.7 1376.3 1608.7C1381.0 1599.7 1386.1 1587.3 1390.4 1580.5C1394.7 1573.7 1398.3 1570.2 1402.2 1567.8C1406.1 1565.5 1410.0 1567.0 1413.9 1566.4C1417.9 1565.8 1421.8 1567.6 1425.7 1564.0C1429.6 1560.5 1433.5 1553.9 1437.5 1545.2C1441.4 1536.6 1445.8 1521.3 1449.2 1512.3C1452.6 1503.3 1454.9 1495.7 1457.7 1491.2C1460.4 1486.6 1462.8 1484.7 1465.7 1485.0C1468.6 1485.4 1471.6 1490.4 1475.1 1493.5C1478.6 1496.6 1482.5 1502.3 1486.8 1503.9C1491.1 1505.4 1497.0 1501.1 1500.9 1502.9C1504.9 1504.7 1506.8 1507.2 1510.3 1514.7C1513.9 1522.1 1518.2 1537.4 1522.1 1547.6C1526.0 1557.8 1530.5 1566.4 1533.9 1575.8C1537.2 1585.2 1539.2 1593.4 1542.3 1604.0C1545.5 1614.6 1549.4 1629.5 1552.7 1639.3C1556.0 1649.1 1558.5 1656.9 1562.1 1662.8C1565.6 1668.7 1569.1 1671.0 1573.8 1674.5C1578.5 1678.1 1584.4 1680.8 1590.3 1683.9C1596.2 1687.1 1603.6 1691.2 1609.1 1693.4C1614.6 1695.5 1618.5 1696.6 1623.2 1696.6C1627.9 1696.6 1632.6 1694.7 1637.3 1693.4C1642.0 1692.0 1647.5 1689.4 1651.4 1688.7C1655.3 1687.9 1657.3 1687.6 1660.8 1688.7C1664.3 1689.7 1668.3 1693.0 1672.6 1694.8C1676.9 1696.5 1680.8 1698.1 1686.7 1699.0C1692.6 1699.9 1700.4 1700.6 1707.8 1700.4C1715.3 1700.3 1723.5 1698.8 1731.3 1698.1C1739.2 1697.3 1747.2 1696.5 1754.9 1695.7C1762.5 1694.9 1773.7 1693.7 1777.4 1693.4"/>
<path d="M189.4 1925.8C199.6 1925.8 231.7 1925.8 250.5 1925.8C269.3 1925.8 291.3 1926.8 302.3 1925.8C313.2 1924.7 310.1 1924.2 316.4 1919.7C322.6 1915.1 332.0 1905.5 339.9 1898.5C347.7 1891.4 355.5 1884.0 363.4 1877.3C371.2 1870.7 379.1 1863.0 386.9 1858.5C394.7 1854.1 403.4 1851.6 410.4 1850.5C417.5 1849.5 422.2 1851.5 429.2 1852.4C436.3 1853.4 445.7 1854.1 452.7 1856.2C459.8 1858.2 465.3 1860.9 471.5 1864.6C477.8 1868.4 483.3 1872.7 490.3 1878.7C497.4 1884.8 506.8 1894.4 513.9 1900.8C520.9 1907.3 527.6 1913.2 532.7 1917.3C537.8 1921.5 540.9 1924.2 544.4 1925.8C547.9 1927.3 550.9 1927.2 553.8 1926.7C556.7 1926.2 559.1 1924.5 561.8 1922.9C564.6 1921.4 566.9 1918.2 570.3 1917.3C573.7 1916.4 578.5 1916.7 582.0 1917.3C585.6 1917.9 588.7 1919.5 591.4 1921.1C594.2 1922.6 592.6 1925.8 598.5 1926.7C604.4 1927.6 618.2 1926.7 626.7 1926.7C635.2 1926.7 645.5 1926.7 649.3 1926.7"/>
<path d="M677.9 1922.0C682.7 1919.5 698.2 1911.7 707.0 1907.0C715.8 1902.3 723.5 1898.5 730.5 1893.8C737.6 1889.1 743.9 1884.4 749.3 1878.7C754.8 1873.1 758.7 1868.0 763.4 1859.9C768.2 1851.9 772.9 1841.5 777.6 1830.3C782.3 1819.1 787.4 1804.1 791.7 1792.7C796.0 1781.3 799.5 1769.3 803.4 1762.1C807.3 1754.9 811.4 1749.4 815.2 1749.4C818.9 1749.4 822.2 1752.6 826.0 1762.1C829.7 1771.7 833.9 1791.9 837.7 1806.8C841.6 1821.7 845.3 1839.3 849.0 1851.5C852.7 1863.6 855.7 1871.5 859.8 1879.7C864.0 1887.9 869.2 1895.0 873.9 1900.8C878.7 1906.7 882.6 1911.0 888.1 1915.0C893.5 1918.9 900.6 1922.4 906.9 1924.4C913.1 1926.3 919.0 1927.1 925.7 1926.7C932.3 1926.3 940.2 1924.7 946.8 1922.0C953.5 1919.3 959.4 1914.0 965.6 1910.3C971.9 1906.5 979.7 1902.6 984.5 1899.4C989.2 1896.3 990.3 1896.5 993.9 1891.4C997.4 1886.4 1001.7 1876.8 1005.6 1869.3C1009.5 1861.9 1013.8 1851.7 1017.4 1846.8C1020.9 1841.8 1023.6 1839.6 1026.8 1839.7C1029.9 1839.9 1032.6 1842.6 1036.2 1847.7C1039.7 1852.8 1044.0 1864.8 1047.9 1870.3C1051.8 1875.8 1055.4 1878.3 1059.7 1880.6C1064.0 1883.0 1069.1 1882.6 1073.8 1884.4C1078.5 1886.2 1083.6 1889.7 1087.9 1891.4C1092.2 1893.2 1096.1 1894.7 1099.7 1894.7C1103.2 1894.7 1105.9 1893.9 1109.1 1891.4C1112.2 1888.9 1114.9 1884.9 1118.5 1879.7C1122.0 1874.4 1126.8 1864.6 1130.2 1859.9C1133.6 1855.2 1135.5 1851.3 1138.7 1851.5C1141.8 1851.6 1145.3 1855.4 1149.0 1860.9C1152.7 1866.4 1156.9 1877.9 1160.8 1884.4C1164.7 1890.9 1168.6 1896.4 1172.5 1899.9C1176.5 1903.4 1179.1 1905.3 1184.3 1905.5C1189.5 1905.8 1199.6 1902.2 1203.8 1901.7C1207.9 1901.2 1205.7 1900.9 1209.4 1902.6C1213.1 1904.3 1220.0 1909.0 1225.9 1912.0C1231.7 1915.0 1239.2 1918.4 1244.7 1920.5C1250.2 1922.6 1252.9 1924.2 1258.8 1924.7C1264.7 1925.3 1274.1 1923.5 1279.9 1923.8C1285.8 1924.0 1290.0 1925.9 1294.0 1926.1C1298.1 1926.3 1300.9 1927.1 1304.4 1925.2C1307.9 1923.2 1311.4 1919.7 1315.2 1914.4C1319.0 1909.0 1323.0 1899.5 1327.0 1893.2C1330.9 1886.9 1334.8 1880.3 1338.7 1876.7C1342.6 1873.2 1346.6 1874.2 1350.5 1872.0C1354.4 1869.9 1357.9 1869.5 1362.2 1864.0C1366.5 1858.6 1371.6 1848.0 1376.3 1839.1C1381.0 1830.3 1386.1 1817.6 1390.4 1810.9C1394.7 1804.2 1398.3 1801.3 1402.2 1799.2C1406.1 1797.0 1410.0 1798.4 1413.9 1797.7C1417.9 1797.1 1421.8 1799.1 1425.7 1795.4C1429.6 1791.7 1433.5 1784.4 1437.5 1775.6C1441.4 1766.9 1445.7 1752.5 1449.2 1742.7C1452.7 1732.9 1455.6 1722.5 1458.6 1716.9C1461.6 1711.2 1463.9 1708.9 1467.1 1708.9C1470.2 1708.9 1474.1 1714.6 1477.4 1716.9C1480.7 1719.1 1482.5 1722.5 1486.8 1722.5C1491.1 1722.5 1499.0 1715.8 1503.3 1716.9C1507.6 1717.9 1509.2 1721.2 1512.7 1728.6C1516.2 1736.1 1520.8 1751.3 1524.5 1761.5C1528.1 1771.7 1531.7 1780.3 1534.8 1789.7C1537.9 1799.2 1540.3 1807.0 1543.3 1818.0C1546.2 1828.9 1549.5 1844.6 1552.7 1855.6C1555.8 1866.6 1558.5 1876.7 1562.1 1883.8C1565.6 1890.8 1569.1 1893.4 1573.8 1897.9C1578.5 1902.4 1584.4 1907.1 1590.3 1911.1C1596.2 1915.0 1603.6 1919.1 1609.1 1921.4C1614.6 1923.8 1618.5 1925.2 1623.2 1925.2C1627.9 1925.2 1632.6 1923.0 1637.3 1921.4C1642.0 1919.8 1647.5 1916.9 1651.4 1915.8C1655.3 1914.6 1657.3 1913.4 1660.8 1914.4C1664.3 1915.3 1668.7 1919.5 1672.6 1921.4C1676.5 1923.4 1678.4 1925.1 1684.3 1926.1C1690.2 1927.1 1700.0 1927.5 1707.8 1927.5C1715.7 1927.5 1723.5 1926.6 1731.3 1926.1C1739.2 1925.6 1747.2 1925.1 1754.9 1924.7C1762.5 1924.3 1773.7 1923.9 1777.4 1923.8"/>
<path d="M189.4 2149.6C199.6 2149.6 231.7 2149.6 250.5 2149.6C269.3 2149.6 291.3 2150.7 302.3 2149.6C313.2 2148.5 310.1 2147.9 316.4 2143.0C322.6 2138.2 332.0 2127.9 339.9 2120.4C347.7 2113.0 355.5 2105.4 363.4 2098.3C371.2 2091.3 379.8 2082.8 386.9 2078.1C393.9 2073.4 398.7 2071.1 405.7 2070.1C412.8 2069.2 421.4 2071.4 429.2 2072.5C437.1 2073.6 445.7 2074.6 452.7 2076.7C459.8 2078.8 465.3 2081.3 471.5 2085.2C477.8 2089.1 483.3 2094.1 490.3 2100.2C497.4 2106.3 506.8 2115.3 513.9 2121.8C520.9 2128.4 527.6 2134.9 532.7 2139.2C537.8 2143.6 540.9 2146.1 544.4 2147.7C547.9 2149.3 551.1 2149.3 553.8 2148.7C556.6 2148.0 558.1 2145.9 560.9 2143.9C563.6 2142.0 566.8 2138.1 570.3 2136.9C573.8 2135.7 578.5 2136.1 582.0 2136.9C585.6 2137.7 588.3 2139.6 591.4 2141.6C594.6 2143.6 597.7 2147.1 600.8 2148.7C604.0 2150.2 606.7 2150.9 610.3 2151.0C613.8 2151.1 615.7 2149.4 622.0 2149.1C628.3 2148.8 643.6 2149.1 647.9 2149.1"/>
<path d="M676.5 2144.9C681.6 2142.1 698.0 2133.5 707.0 2128.4C716.0 2123.3 723.5 2119.2 730.5 2114.3C737.6 2109.5 743.9 2104.9 749.3 2099.3C754.8 2093.6 758.7 2088.7 763.4 2080.5C768.2 2072.2 772.9 2061.3 777.6 2049.9C782.3 2038.5 787.4 2023.3 791.7 2012.3C796.0 2001.3 799.9 1990.3 803.4 1984.1C806.9 1977.8 809.5 1974.3 812.8 1974.7C816.2 1975.1 819.7 1977.0 823.6 1986.4C827.6 1995.8 832.3 2016.2 836.3 2031.1C840.4 2046.0 844.2 2064.0 848.1 2075.8C852.0 2087.5 855.5 2093.6 859.8 2101.6C864.2 2109.6 869.2 2117.9 873.9 2123.7C878.7 2129.6 882.6 2133.0 888.1 2136.9C893.5 2140.8 900.6 2145.0 906.9 2147.2C913.1 2149.4 919.0 2150.6 925.7 2150.1C932.3 2149.5 940.2 2146.9 946.8 2143.9C953.5 2141.0 959.4 2136.1 965.6 2132.2C971.9 2128.3 979.7 2123.8 984.5 2120.4C989.2 2117.1 990.3 2117.1 993.9 2112.0C997.4 2106.9 1001.7 2097.1 1005.6 2089.9C1009.5 2082.7 1014.0 2073.4 1017.4 2068.7C1020.7 2064.0 1022.7 2061.3 1025.8 2061.7C1029.0 2062.1 1032.5 2066.0 1036.2 2071.1C1039.9 2076.2 1044.0 2086.7 1047.9 2092.2C1051.8 2097.7 1055.4 2101.4 1059.7 2104.0C1064.0 2106.6 1069.1 2106.0 1073.8 2107.7C1078.5 2109.5 1083.6 2112.8 1087.9 2114.3C1092.2 2115.8 1096.1 2117.0 1099.7 2116.7C1103.2 2116.4 1105.9 2115.3 1109.1 2112.4C1112.2 2109.5 1114.9 2104.5 1118.5 2099.3C1122.0 2094.1 1127.1 2085.3 1130.2 2081.4C1133.4 2077.5 1134.5 2075.1 1137.3 2075.8C1140.0 2076.4 1143.2 2079.7 1146.7 2085.2C1150.2 2090.7 1154.1 2102.0 1158.4 2108.7C1162.7 2115.3 1167.8 2121.6 1172.5 2125.1C1177.2 2128.7 1181.4 2129.8 1186.6 2129.8C1191.8 2129.9 1200.0 2126.2 1203.8 2125.6C1207.6 2125.1 1205.7 2124.7 1209.4 2126.6C1213.1 2128.4 1220.0 2134.0 1225.9 2136.9C1231.7 2139.8 1238.4 2142.0 1244.7 2143.9C1250.9 2145.9 1257.6 2148.1 1263.5 2148.7C1269.4 2149.2 1274.8 2147.1 1279.9 2147.2C1285.0 2147.4 1290.0 2149.5 1294.0 2149.6C1298.1 2149.7 1300.9 2149.8 1304.4 2147.7C1307.9 2145.6 1311.4 2142.2 1315.2 2136.9C1319.0 2131.6 1323.0 2122.2 1327.0 2115.7C1330.9 2109.3 1334.8 2102.3 1338.7 2098.3C1342.6 2094.4 1346.6 2094.8 1350.5 2092.2C1354.4 2089.6 1357.9 2088.7 1362.2 2082.8C1366.5 2076.9 1371.6 2065.8 1376.3 2057.0C1381.0 2048.1 1386.1 2036.1 1390.4 2029.7C1394.7 2023.3 1398.3 2020.4 1402.2 2018.4C1406.1 2016.4 1410.0 2018.1 1413.9 2017.5C1417.9 2016.8 1421.8 2018.2 1425.7 2014.6C1429.6 2011.0 1433.5 2004.5 1437.5 1995.8C1441.4 1987.2 1445.8 1971.9 1449.2 1962.9C1452.6 1953.9 1454.9 1946.6 1457.7 1941.8C1460.4 1936.9 1462.8 1933.8 1465.7 1933.8C1468.6 1933.8 1471.6 1939.0 1475.1 1941.8C1478.6 1944.5 1482.5 1949.0 1486.8 1950.2C1491.1 1951.4 1497.0 1947.3 1500.9 1948.8C1504.9 1950.3 1506.8 1951.7 1510.3 1959.2C1513.9 1966.6 1518.2 1983.1 1522.1 1993.5C1526.0 2003.9 1530.5 2012.3 1533.9 2021.7C1537.2 2031.1 1539.2 2038.9 1542.3 2049.9C1545.5 2060.9 1549.4 2077.3 1552.7 2087.5C1556.0 2097.7 1558.5 2104.8 1562.1 2111.0C1565.6 2117.3 1569.1 2120.8 1573.8 2125.1C1578.5 2129.5 1584.4 2133.4 1590.3 2136.9C1596.2 2140.4 1603.6 2144.2 1609.1 2146.3C1614.6 2148.4 1618.5 2149.7 1623.2 2149.6C1627.9 2149.4 1632.6 2146.8 1637.3 2145.4C1642.0 2143.9 1647.5 2141.5 1651.4 2140.7C1655.3 2139.8 1657.3 2139.2 1660.8 2140.2C1664.3 2141.1 1668.7 2144.5 1672.6 2146.3C1676.5 2148.1 1678.4 2150.2 1684.3 2151.0C1690.2 2151.8 1700.0 2151.2 1707.8 2151.0C1715.7 2150.8 1723.5 2150.4 1731.3 2149.6C1739.2 2148.8 1747.2 2147.1 1754.9 2146.3C1762.5 2145.5 1773.7 2145.1 1777.4 2144.9"/>
<path d="M189.4 2354.6C199.6 2354.6 231.7 2354.6 250.5 2354.6C269.3 2354.6 291.3 2355.6 302.3 2354.6C313.2 2353.6 310.1 2353.0 316.4 2348.5C322.6 2343.9 332.0 2334.4 339.9 2327.3C347.7 2320.3 355.5 2312.4 363.4 2306.2C371.2 2299.9 379.8 2293.5 386.9 2289.7C393.9 2286.0 398.7 2284.2 405.7 2283.6C412.8 2283.0 421.4 2284.9 429.2 2286.0C437.1 2287.0 445.7 2287.8 452.7 2289.7C459.8 2291.7 465.3 2294.0 471.5 2297.7C477.8 2301.4 483.3 2306.1 490.3 2311.8C497.4 2317.5 506.8 2326.2 513.9 2332.0C520.9 2337.9 527.6 2343.3 532.7 2347.1C537.8 2350.8 540.9 2353.4 544.4 2354.6C547.9 2355.9 551.1 2355.4 553.8 2354.6C556.6 2353.8 558.1 2351.7 560.9 2349.9C563.6 2348.1 566.8 2344.8 570.3 2343.8C573.8 2342.8 578.5 2343.2 582.0 2343.8C585.6 2344.4 588.3 2345.8 591.4 2347.6C594.6 2349.4 595.0 2353.3 600.8 2354.6C606.7 2355.9 618.9 2355.4 626.7 2355.5C634.5 2355.7 644.3 2355.5 647.9 2355.5"/>
<path d="M676.5 2347.6C681.6 2345.2 698.0 2338.0 707.0 2333.4C716.0 2328.9 723.5 2324.8 730.5 2320.3C737.6 2315.7 743.9 2311.3 749.3 2306.2C754.8 2301.1 758.7 2297.2 763.4 2289.7C768.2 2282.3 772.9 2272.1 777.6 2261.5C782.3 2250.9 787.4 2236.0 791.7 2226.2C796.0 2216.4 799.5 2208.1 803.4 2202.7C807.3 2197.4 811.5 2193.9 815.2 2194.3C818.9 2194.7 821.8 2196.2 825.5 2205.1C829.3 2213.9 833.8 2233.7 837.7 2247.4C841.7 2261.1 845.3 2276.4 849.0 2287.4C852.7 2298.3 855.7 2305.4 859.8 2313.2C864.0 2321.1 869.2 2328.9 873.9 2334.4C878.7 2339.9 882.6 2343.0 888.1 2346.1C893.5 2349.3 900.6 2351.9 906.9 2353.2C913.1 2354.5 919.0 2354.9 925.7 2354.1C932.3 2353.4 940.2 2351.4 946.8 2348.5C953.5 2345.6 959.4 2340.5 965.6 2336.7C971.9 2333.0 979.7 2329.1 984.5 2325.9C989.2 2322.8 990.3 2322.8 993.9 2317.9C997.4 2313.1 1001.7 2303.4 1005.6 2296.8C1009.5 2290.1 1013.8 2282.1 1017.4 2278.0C1020.9 2273.8 1023.6 2271.5 1026.8 2271.8C1029.9 2272.2 1032.6 2275.8 1036.2 2280.3C1039.7 2284.9 1044.0 2294.6 1047.9 2299.1C1051.8 2303.7 1055.4 2305.5 1059.7 2307.6C1064.0 2309.7 1069.1 2309.9 1073.8 2311.8C1078.5 2313.7 1083.6 2317.3 1087.9 2318.9C1092.2 2320.4 1096.1 2321.5 1099.7 2321.2C1103.2 2320.9 1105.9 2319.7 1109.1 2317.0C1112.2 2314.2 1114.9 2309.5 1118.5 2304.8C1122.0 2300.0 1126.8 2292.0 1130.2 2288.3C1133.6 2284.6 1135.5 2282.0 1138.7 2282.7C1141.8 2283.3 1145.3 2286.8 1149.0 2292.1C1152.7 2297.3 1156.9 2307.9 1160.8 2314.2C1164.7 2320.4 1168.2 2326.2 1172.5 2329.7C1176.8 2333.2 1181.4 2334.8 1186.6 2335.3C1191.8 2335.9 1200.0 2333.3 1203.8 2333.0C1207.6 2332.7 1205.7 2331.8 1209.4 2333.4C1213.1 2335.1 1220.0 2340.1 1225.9 2342.9C1231.7 2345.6 1238.4 2347.9 1244.7 2349.9C1250.9 2351.9 1257.6 2354.2 1263.5 2354.6C1269.4 2355.0 1274.8 2352.3 1279.9 2352.3C1285.0 2352.3 1290.0 2354.3 1294.0 2354.6C1298.1 2354.9 1300.9 2355.8 1304.4 2354.1C1307.9 2352.5 1311.4 2349.6 1315.2 2344.7C1319.0 2339.9 1323.0 2331.0 1327.0 2325.0C1330.9 2318.9 1334.8 2312.2 1338.7 2308.5C1342.6 2304.8 1346.6 2305.2 1350.5 2302.9C1354.4 2300.5 1357.9 2300.1 1362.2 2294.4C1366.5 2288.7 1371.6 2276.8 1376.3 2268.6C1381.0 2260.3 1386.1 2250.4 1390.4 2245.0C1394.7 2239.7 1398.3 2238.2 1402.2 2236.6C1406.1 2235.0 1410.0 2236.2 1413.9 2235.6C1417.9 2235.1 1421.8 2236.4 1425.7 2233.3C1429.6 2230.2 1433.5 2224.7 1437.5 2216.8C1441.4 2209.0 1445.7 2194.9 1449.2 2186.3C1452.7 2177.6 1455.6 2170.0 1458.6 2165.1C1461.6 2160.3 1463.9 2157.4 1467.1 2157.1C1470.2 2156.9 1474.1 2161.7 1477.4 2163.7C1480.7 2165.7 1482.5 2168.8 1486.8 2168.9C1491.1 2168.9 1499.0 2163.1 1503.3 2164.2C1507.6 2165.3 1509.2 2168.6 1512.7 2175.5C1516.2 2182.3 1520.8 2196.2 1524.5 2205.1C1528.1 2213.9 1531.7 2220.4 1534.8 2228.6C1537.9 2236.8 1540.3 2244.3 1543.3 2254.5C1546.2 2264.6 1549.5 2279.9 1552.7 2289.7C1555.8 2299.5 1558.5 2307.2 1562.1 2313.2C1565.6 2319.3 1569.1 2321.8 1573.8 2325.9C1578.5 2330.1 1584.4 2334.2 1590.3 2338.2C1596.2 2342.1 1603.6 2347.4 1609.1 2349.9C1614.6 2352.4 1618.5 2353.2 1623.2 2353.2C1627.9 2353.2 1632.6 2351.3 1637.3 2349.9C1642.0 2348.5 1647.5 2345.8 1651.4 2344.7C1655.3 2343.7 1657.3 2342.9 1660.8 2343.8C1664.3 2344.7 1668.7 2348.1 1672.6 2349.9C1676.5 2351.7 1678.4 2353.4 1684.3 2354.6C1690.2 2355.8 1700.0 2357.0 1707.8 2357.0C1715.7 2357.0 1723.5 2355.6 1731.3 2354.6C1739.2 2353.6 1747.2 2351.9 1754.9 2350.8C1762.5 2349.8 1773.7 2348.9 1777.4 2348.5"/>
</g>
<text class="lb" transform="translate(193.0 1459.3) scale(0.9720 1)">0.9CMC</text>
<text class="lb" transform="translate(193.0 1675.2) scale(0.9720 1)">0.9Ag1</text>
<text class="lb" transform="translate(193.0 1900.8) scale(0.9720 1)">0.9Ag2</text>
<text class="lb" transform="translate(193.0 2124.7) scale(0.9720 1)">0.9Ag3</text>
<text class="lb" transform="translate(193.0 2322.2) scale(0.9720 1)">0.9Ag4</text>
<g class="fr">
<path d="M649.1 2452.3 H188.0 V3573.4 H649.4"/>
<path d="M676.3 2452.3 H1777.5 V3573.4 H676.6"/>
<path class="sl" d="M636.5 2473.3 L661.7 2431.3"/>
<path class="sl" d="M663.7 2473.3 L688.9 2431.3"/>
<path class="sl" d="M636.8 3594.4 L662.0 3552.4"/>
<path class="sl" d="M664.0 3594.4 L689.2 3552.4"/>
<path class="tc" d="M188.0 3571.2V3596.9M364.9 3573.4V3596.9M542.6 3573.4V3596.9M799.3 3573.4V3596.9M1287.5 3573.4V3596.9M1777.5 3571.2V3596.9M276.4 3573.4V3586.9M453.6 3573.4V3586.9M631.0 3573.4V3586.9M1044.0 3573.4V3586.9M1532.3 3573.4V3586.9"/>
</g>
<g class="cv">
<path d="M189.4 2674.2C199.6 2674.2 230.5 2674.2 250.5 2674.2C270.5 2674.2 297.6 2674.8 309.3 2674.2C321.1 2673.5 315.2 2673.8 321.1 2670.4C326.9 2667.0 336.7 2659.0 344.6 2653.9C352.4 2648.9 361.0 2643.4 368.1 2639.8C375.1 2636.3 380.6 2634.4 386.9 2632.8C393.2 2631.2 398.7 2630.8 405.7 2630.4C412.8 2630.0 421.4 2630.3 429.2 2630.4C437.1 2630.6 445.7 2630.6 452.7 2631.4C459.8 2632.2 465.3 2633.1 471.5 2635.1C477.8 2637.2 483.3 2640.1 490.3 2643.6C497.4 2647.1 506.8 2652.6 513.9 2656.3C520.9 2660.0 527.2 2663.1 532.7 2665.7C538.2 2668.3 542.9 2670.8 546.8 2671.8C550.7 2672.8 553.4 2672.4 556.2 2671.8C558.9 2671.2 560.9 2669.1 563.2 2668.1C565.6 2667.0 567.1 2666.3 570.3 2665.7C573.4 2665.2 578.5 2664.5 582.0 2664.8C585.6 2665.0 588.3 2665.8 591.4 2667.1C594.6 2668.4 595.0 2671.6 600.8 2672.8C606.7 2673.9 618.9 2673.9 626.7 2674.2C634.5 2674.4 644.3 2674.2 647.9 2674.2"/>
<path d="M676.1 2674.2C680.5 2673.2 694.0 2670.9 702.3 2668.1C710.6 2665.2 719.2 2661.6 725.8 2657.2C732.5 2652.9 737.2 2648.6 742.3 2642.2C747.4 2635.8 751.7 2628.1 756.4 2618.7C761.1 2609.3 765.8 2598.3 770.5 2585.8C775.2 2573.2 780.3 2556.4 784.6 2543.4C788.9 2530.5 792.7 2517.6 796.4 2508.2C800.0 2498.8 803.6 2491.3 806.7 2487.0C809.8 2482.7 812.2 2481.4 815.2 2482.3C818.2 2483.3 821.1 2484.0 824.6 2492.7C828.1 2501.3 832.4 2519.7 836.3 2534.0C840.3 2548.4 844.2 2565.8 848.1 2578.7C852.0 2591.6 855.5 2602.2 859.8 2611.6C864.2 2621.0 869.2 2628.5 873.9 2635.1C878.7 2641.8 882.6 2646.5 888.1 2651.6C893.5 2656.7 899.8 2662.0 906.9 2665.7C913.9 2669.4 923.3 2673.2 930.4 2673.7C937.4 2674.2 943.3 2671.5 949.2 2669.0C955.1 2666.5 960.2 2662.3 965.6 2658.7C971.1 2655.0 977.4 2650.3 982.1 2646.9C986.8 2643.5 989.9 2645.1 993.9 2638.4C997.8 2631.8 1001.8 2616.9 1005.6 2606.9C1009.4 2597.0 1012.9 2585.2 1016.4 2578.7C1020.0 2572.2 1023.5 2568.3 1026.8 2567.9C1030.1 2567.5 1032.6 2570.6 1036.2 2576.4C1039.7 2582.1 1044.0 2595.6 1047.9 2602.2C1051.8 2608.9 1055.4 2612.3 1059.7 2616.3C1064.0 2620.4 1069.1 2623.3 1073.8 2626.7C1078.5 2630.0 1083.6 2634.6 1087.9 2636.6C1092.2 2638.5 1096.1 2638.9 1099.7 2638.4C1103.2 2638.0 1105.5 2637.8 1109.1 2633.7C1112.6 2629.7 1117.3 2620.4 1120.8 2614.0C1124.3 2607.6 1127.2 2599.2 1130.2 2595.2C1133.2 2591.1 1135.5 2588.7 1138.7 2589.5C1141.8 2590.3 1145.3 2594.2 1149.0 2599.9C1152.7 2605.5 1156.9 2617.0 1160.8 2623.4C1164.7 2629.8 1168.2 2634.5 1172.5 2638.4C1176.8 2642.4 1181.4 2644.9 1186.6 2646.9C1191.8 2648.9 1200.0 2649.9 1203.8 2650.7C1207.6 2651.4 1206.5 2650.0 1209.4 2651.6C1212.3 2653.2 1217.2 2657.3 1221.2 2660.1C1225.1 2662.8 1227.8 2666.1 1232.9 2668.1C1238.0 2670.0 1246.2 2671.3 1251.7 2671.8C1257.2 2672.4 1261.5 2671.7 1265.8 2671.3C1270.1 2671.0 1274.1 2669.5 1277.6 2669.5C1281.1 2669.5 1283.9 2670.6 1287.0 2671.3C1290.1 2672.1 1293.3 2673.9 1296.4 2674.2C1299.5 2674.4 1302.7 2674.3 1305.8 2672.8C1308.9 2671.2 1311.7 2668.7 1315.2 2664.8C1318.7 2660.8 1322.6 2654.6 1327.0 2649.2C1331.3 2643.9 1336.0 2637.9 1341.1 2632.8C1346.2 2627.7 1352.8 2624.6 1357.5 2618.7C1362.2 2612.8 1365.4 2605.0 1369.3 2597.5C1373.2 2590.1 1377.1 2581.1 1381.0 2574.0C1385.0 2567.0 1388.9 2559.9 1392.8 2555.2C1396.7 2550.5 1400.6 2547.9 1404.5 2545.8C1408.5 2543.7 1412.0 2543.7 1416.3 2542.5C1420.6 2541.3 1426.1 2541.3 1430.4 2538.7C1434.7 2536.2 1438.2 2532.5 1442.2 2527.0C1446.1 2521.5 1450.4 2512.1 1453.9 2505.8C1457.4 2499.6 1460.2 2492.7 1463.3 2489.4C1466.5 2486.0 1468.8 2486.2 1472.7 2485.6C1476.6 2485.1 1482.1 2485.6 1486.8 2486.1C1491.5 2486.6 1496.6 2487.1 1500.9 2488.4C1505.3 2489.8 1508.8 2491.3 1512.7 2494.1C1516.6 2496.8 1520.1 2499.8 1524.5 2504.9C1528.8 2510.0 1534.2 2516.6 1538.6 2524.6C1542.9 2532.6 1546.4 2543.4 1550.3 2552.9C1554.2 2562.3 1558.2 2573.6 1562.1 2581.1C1566.0 2588.5 1569.1 2592.2 1573.8 2597.5C1578.5 2602.9 1584.4 2608.6 1590.3 2613.0C1596.2 2617.5 1603.2 2620.8 1609.1 2624.3C1615.0 2627.9 1620.1 2632.2 1625.5 2634.2C1631.0 2636.2 1636.5 2635.2 1642.0 2636.6C1647.5 2637.9 1653.4 2639.3 1658.5 2642.2C1663.6 2645.1 1667.9 2649.9 1672.6 2653.9C1677.3 2658.0 1682.0 2663.4 1686.7 2666.6C1691.4 2669.9 1694.9 2672.4 1700.8 2673.7C1706.7 2675.0 1714.5 2674.2 1721.9 2674.2C1729.4 2674.2 1738.4 2673.9 1745.5 2673.7C1752.5 2673.5 1758.9 2672.9 1764.3 2672.8C1769.6 2672.6 1775.2 2672.8 1777.4 2672.8"/>
<path d="M189.4 2895.4C199.6 2895.4 232.1 2895.4 250.5 2895.4C268.9 2895.4 289.3 2896.4 299.9 2895.4C310.5 2894.3 307.7 2893.8 314.0 2889.2C320.3 2884.7 329.7 2874.9 337.5 2868.1C345.4 2861.3 353.2 2854.6 361.0 2848.3C368.9 2842.1 377.1 2835.0 384.5 2830.5C392.0 2825.9 398.3 2822.2 405.7 2821.1C413.2 2819.9 421.4 2822.5 429.2 2823.4C437.1 2824.4 445.7 2825.0 452.7 2826.7C459.8 2828.4 465.3 2830.2 471.5 2833.8C477.8 2837.4 483.3 2842.6 490.3 2848.3C497.4 2854.1 506.8 2862.1 513.9 2868.1C520.9 2874.1 527.3 2880.5 532.7 2884.5C538.0 2888.6 541.9 2891.1 545.8 2892.5C549.7 2893.9 553.3 2893.4 556.2 2893.0C559.1 2892.6 560.9 2891.4 563.2 2890.2C565.6 2888.9 567.1 2886.3 570.3 2885.5C573.4 2884.7 578.5 2884.9 582.0 2885.5C585.6 2886.1 588.3 2887.6 591.4 2889.2C594.6 2890.9 595.0 2894.3 600.8 2895.4C606.7 2896.5 618.6 2895.8 626.7 2895.8C634.8 2895.9 645.5 2895.8 649.3 2895.8"/>
<path d="M677.9 2886.0C682.7 2883.4 698.2 2875.4 707.0 2870.4C715.8 2865.5 723.5 2861.8 730.5 2856.3C737.6 2850.8 743.9 2844.6 749.3 2837.5C754.8 2830.5 758.7 2823.8 763.4 2814.0C768.2 2804.2 772.9 2792.1 777.6 2778.7C782.3 2765.4 787.4 2747.0 791.7 2734.1C796.0 2721.1 799.5 2709.5 803.4 2701.2C807.3 2692.8 811.5 2684.5 815.2 2683.8C818.9 2683.0 822.0 2686.9 825.5 2696.5C829.0 2706.0 832.6 2724.7 836.3 2741.1C840.1 2757.6 844.2 2780.3 848.1 2795.2C852.0 2810.1 855.5 2819.9 859.8 2830.5C864.2 2841.1 869.2 2850.8 873.9 2858.7C878.7 2866.5 882.6 2872.2 888.1 2877.5C893.5 2882.8 900.2 2887.7 906.9 2890.7C913.5 2893.6 921.4 2895.4 928.0 2895.4C934.7 2895.4 940.6 2893.2 946.8 2890.7C953.1 2888.1 959.4 2883.8 965.6 2879.8C971.9 2875.9 979.7 2870.7 984.5 2867.1C989.2 2863.6 990.3 2865.2 993.9 2858.7C997.4 2852.2 1001.8 2837.9 1005.6 2828.1C1009.4 2818.3 1012.9 2806.2 1016.4 2799.9C1020.0 2793.6 1023.5 2790.5 1026.8 2790.5C1030.1 2790.5 1032.6 2793.6 1036.2 2799.9C1039.7 2806.2 1044.0 2820.3 1047.9 2828.1C1051.8 2836.0 1055.4 2842.2 1059.7 2846.9C1064.0 2851.6 1069.1 2853.4 1073.8 2856.3C1078.5 2859.2 1083.6 2862.9 1087.9 2864.3C1092.2 2865.7 1096.1 2865.7 1099.7 2864.8C1103.2 2863.9 1105.9 2862.8 1109.1 2858.7C1112.2 2854.5 1114.9 2847.3 1118.5 2839.9C1122.0 2832.4 1126.9 2819.5 1130.2 2814.0C1133.5 2808.5 1135.5 2806.6 1138.2 2807.0C1141.0 2807.4 1143.3 2809.7 1146.7 2816.4C1150.0 2823.0 1154.1 2838.7 1158.4 2846.9C1162.7 2855.2 1167.8 2861.4 1172.5 2865.7C1177.2 2870.0 1181.4 2871.8 1186.6 2872.8C1191.8 2873.8 1200.0 2872.0 1203.8 2871.8C1207.6 2871.7 1206.1 2870.3 1209.4 2871.8C1212.7 2873.4 1218.0 2878.1 1223.5 2881.3C1229.0 2884.4 1236.1 2888.4 1242.3 2890.7C1248.6 2892.9 1254.9 2894.3 1261.1 2894.9C1267.4 2895.4 1274.1 2893.9 1279.9 2893.9C1285.8 2893.9 1292.1 2895.3 1296.4 2894.9C1300.7 2894.5 1302.7 2893.7 1305.8 2891.6C1308.9 2889.5 1311.7 2886.5 1315.2 2882.2C1318.7 2877.9 1323.0 2871.1 1327.0 2865.7C1330.9 2860.4 1334.8 2854.5 1338.7 2850.2C1342.6 2845.9 1346.6 2843.9 1350.5 2839.9C1354.4 2835.8 1357.9 2832.8 1362.2 2825.8C1366.5 2818.7 1371.6 2807.0 1376.3 2797.6C1381.0 2788.2 1386.1 2775.8 1390.4 2769.3C1394.7 2762.9 1398.3 2761.0 1402.2 2759.0C1406.1 2757.0 1410.0 2758.4 1413.9 2757.6C1417.9 2756.8 1421.8 2757.4 1425.7 2754.3C1429.6 2751.2 1433.5 2746.1 1437.5 2738.8C1441.4 2731.5 1445.7 2718.8 1449.2 2710.6C1452.7 2702.3 1455.7 2694.1 1458.6 2689.4C1461.5 2684.7 1463.9 2682.0 1466.6 2682.4C1469.4 2682.7 1472.1 2688.9 1475.1 2691.8C1478.1 2694.7 1481.0 2697.8 1484.5 2699.7C1488.0 2701.7 1492.3 2701.3 1496.2 2703.5C1500.2 2705.7 1504.1 2707.4 1508.0 2712.9C1511.9 2718.4 1515.8 2727.8 1519.7 2736.4C1523.7 2745.0 1528.0 2755.6 1531.5 2764.6C1535.0 2773.7 1537.8 2781.1 1540.9 2790.5C1544.0 2799.9 1546.9 2812.1 1550.3 2821.1C1553.7 2830.1 1557.2 2838.3 1561.1 2844.6C1565.0 2850.8 1569.0 2854.9 1573.8 2858.7C1578.7 2862.4 1584.4 2864.6 1590.3 2867.1C1596.2 2869.7 1603.6 2871.8 1609.1 2873.7C1614.6 2875.6 1618.1 2878.0 1623.2 2878.4C1628.3 2878.9 1634.6 2876.6 1639.7 2876.6C1644.7 2876.6 1649.5 2877.1 1653.8 2878.4C1658.1 2879.8 1661.2 2882.2 1665.5 2884.5C1669.8 2886.9 1674.9 2890.6 1679.6 2892.5C1684.3 2894.5 1688.2 2895.5 1693.7 2896.3C1699.2 2897.1 1705.5 2897.6 1712.5 2897.2C1719.6 2896.8 1728.2 2895.0 1736.1 2893.9C1743.9 2892.9 1752.7 2891.4 1759.6 2890.7C1766.5 2889.9 1774.5 2889.5 1777.4 2889.2"/>
<path d="M189.4 3122.0C199.6 3122.0 231.7 3122.0 250.5 3122.0C269.3 3122.0 291.3 3122.8 302.3 3122.0C313.2 3121.2 310.1 3121.6 316.4 3117.3C322.6 3113.0 332.0 3102.8 339.9 3096.1C347.7 3089.5 355.5 3083.1 363.4 3077.3C371.2 3071.6 379.5 3065.2 386.9 3061.8C394.3 3058.4 401.0 3057.5 408.1 3057.1C415.1 3056.7 421.8 3058.4 429.2 3059.5C436.7 3060.5 445.7 3061.4 452.7 3063.2C459.8 3065.0 465.3 3067.0 471.5 3070.3C477.8 3073.6 483.3 3077.9 490.3 3083.0C497.4 3088.1 506.8 3095.5 513.9 3100.8C520.9 3106.2 527.3 3111.6 532.7 3115.0C538.0 3118.3 541.9 3120.0 545.8 3121.1C549.7 3122.1 553.3 3121.7 556.2 3121.1C559.1 3120.4 560.9 3118.9 563.2 3117.3C565.6 3115.7 567.1 3112.6 570.3 3111.7C573.4 3110.7 578.5 3111.1 582.0 3111.7C585.6 3112.2 588.3 3113.4 591.4 3115.0C594.6 3116.5 595.0 3119.8 600.8 3121.1C606.7 3122.3 618.6 3122.2 626.7 3122.5C634.8 3122.7 645.5 3122.5 649.3 3122.5"/>
<path d="M676.5 3119.7C681.6 3116.9 698.0 3108.3 707.0 3103.2C716.0 3098.1 723.5 3094.6 730.5 3089.1C737.6 3083.6 743.9 3077.3 749.3 3070.3C754.8 3063.2 758.7 3056.6 763.4 3046.8C768.2 3037.0 772.9 3024.8 777.6 3011.5C782.3 2998.2 787.4 2979.8 791.7 2966.8C796.0 2953.9 799.7 2941.8 803.4 2933.9C807.1 2926.1 810.2 2919.8 813.8 2919.8C817.3 2919.8 820.8 2923.7 824.6 2933.9C828.3 2944.1 832.4 2964.9 836.3 2980.9C840.3 2997.0 844.2 3016.6 848.1 3030.3C852.0 3044.0 855.5 3053.4 859.8 3063.2C864.2 3073.0 869.2 3082.0 873.9 3089.1C878.7 3096.1 882.6 3100.7 888.1 3105.5C893.5 3110.4 900.2 3115.3 906.9 3118.2C913.5 3121.1 921.4 3122.9 928.0 3122.9C934.7 3122.9 940.6 3120.9 946.8 3118.2C953.1 3115.6 959.4 3110.9 965.6 3107.0C971.9 3103.0 979.7 3098.3 984.5 3094.7C989.2 3091.1 990.3 3091.8 993.9 3085.3C997.4 3078.9 1001.8 3065.3 1005.6 3056.2C1009.4 3047.0 1013.1 3035.8 1016.4 3030.3C1019.8 3024.8 1022.5 3022.9 1025.8 3023.3C1029.1 3023.7 1032.5 3026.8 1036.2 3032.7C1039.9 3038.5 1044.0 3051.6 1047.9 3058.5C1051.8 3065.4 1055.4 3069.9 1059.7 3074.0C1064.0 3078.2 1069.1 3080.5 1073.8 3083.4C1078.5 3086.3 1084.0 3090.0 1087.9 3091.4C1091.8 3092.9 1094.2 3093.2 1097.3 3092.4C1100.4 3091.6 1103.2 3091.2 1106.7 3086.7C1110.2 3082.3 1114.5 3072.9 1118.5 3065.6C1122.4 3058.3 1127.1 3047.6 1130.2 3043.0C1133.4 3038.5 1134.5 3037.5 1137.3 3038.3C1140.0 3039.1 1143.2 3041.2 1146.7 3047.7C1150.2 3054.2 1154.1 3069.5 1158.4 3077.3C1162.7 3085.2 1167.8 3090.8 1172.5 3094.7C1177.2 3098.7 1181.4 3100.1 1186.6 3100.8C1191.8 3101.6 1200.0 3099.1 1203.8 3099.0C1207.6 3098.8 1206.1 3098.4 1209.4 3099.9C1212.7 3101.4 1218.0 3105.0 1223.5 3107.9C1229.0 3110.8 1236.1 3115.0 1242.3 3117.3C1248.6 3119.7 1254.9 3121.5 1261.1 3122.0C1267.4 3122.6 1274.1 3120.4 1279.9 3120.6C1285.8 3120.8 1292.1 3123.1 1296.4 3122.9C1300.7 3122.8 1302.7 3122.0 1305.8 3119.7C1308.9 3117.3 1311.7 3113.9 1315.2 3108.8C1318.7 3103.7 1323.0 3095.1 1327.0 3089.1C1330.9 3083.1 1334.8 3076.9 1338.7 3072.6C1342.6 3068.3 1346.6 3066.8 1350.5 3063.2C1354.4 3059.7 1357.9 3058.5 1362.2 3051.5C1366.5 3044.4 1371.6 3030.3 1376.3 3020.9C1381.0 3011.5 1386.1 3000.9 1390.4 2995.0C1394.7 2989.2 1398.3 2987.4 1402.2 2985.6C1406.1 2983.9 1410.0 2985.3 1413.9 2984.7C1417.9 2984.1 1421.8 2985.3 1425.7 2981.9C1429.6 2978.5 1433.9 2972.1 1437.5 2964.5C1441.0 2956.9 1443.7 2944.7 1446.9 2936.3C1450.0 2927.8 1453.3 2918.6 1456.3 2913.7C1459.2 2908.8 1461.8 2906.3 1464.7 2906.6C1467.6 2907.0 1470.8 2913.1 1473.7 2916.1C1476.6 2919.0 1478.4 2922.2 1482.1 2924.5C1485.9 2926.9 1491.9 2927.6 1496.2 2930.2C1500.5 2932.7 1504.1 2933.4 1508.0 2939.6C1511.9 2945.7 1515.8 2957.6 1519.7 2966.8C1523.7 2976.1 1528.0 2986.0 1531.5 2995.0C1535.0 3004.1 1537.8 3011.5 1540.9 3020.9C1544.0 3030.3 1546.9 3042.5 1550.3 3051.5C1553.7 3060.5 1557.2 3069.1 1561.1 3075.0C1565.0 3080.9 1569.0 3083.4 1573.8 3086.7C1578.7 3090.1 1584.4 3092.7 1590.3 3095.2C1596.2 3097.7 1603.2 3099.8 1609.1 3101.8C1615.0 3103.7 1620.5 3106.5 1625.5 3107.0C1630.6 3107.4 1635.0 3104.7 1639.7 3104.6C1644.4 3104.5 1649.5 3105.2 1653.8 3106.5C1658.1 3107.8 1661.2 3110.2 1665.5 3112.6C1669.8 3115.0 1674.9 3119.3 1679.6 3121.1C1684.3 3122.9 1688.2 3122.9 1693.7 3123.4C1699.2 3124.0 1705.5 3124.4 1712.5 3124.4C1719.6 3124.4 1728.2 3123.7 1736.1 3123.4C1743.9 3123.2 1752.7 3123.0 1759.6 3122.9C1766.5 3122.9 1774.5 3122.9 1777.4 3122.9"/>
<path d="M189.4 3347.1C199.6 3347.1 231.3 3347.1 250.5 3347.1C269.7 3347.1 293.2 3348.1 304.6 3347.1C316.0 3346.1 312.8 3344.8 318.7 3341.0C324.6 3337.2 332.4 3330.0 339.9 3324.5C347.3 3319.1 355.5 3313.0 363.4 3308.1C371.2 3303.2 379.5 3297.9 386.9 3294.9C394.3 3291.9 401.0 3290.6 408.1 3290.2C415.1 3289.8 421.8 3291.8 429.2 3292.6C436.7 3293.4 445.7 3293.5 452.7 3294.9C459.8 3296.3 465.3 3298.1 471.5 3301.0C477.8 3304.0 483.3 3308.2 490.3 3312.8C497.4 3317.3 506.8 3323.8 513.9 3328.3C520.9 3332.8 527.6 3336.7 532.7 3339.6C537.8 3342.5 540.9 3344.7 544.4 3345.7C547.9 3346.7 551.1 3346.3 553.8 3345.7C556.6 3345.1 558.3 3343.4 560.9 3341.9C563.5 3340.5 565.8 3338.0 569.3 3337.2C572.9 3336.5 578.4 3336.6 582.0 3337.2C585.7 3337.9 588.3 3339.4 591.4 3341.0C594.6 3342.6 595.0 3346.0 600.8 3347.1C606.7 3348.2 618.9 3347.5 626.7 3347.6C634.5 3347.7 644.3 3347.6 647.9 3347.6"/>
<path d="M676.5 3341.9C680.8 3340.2 694.1 3335.3 702.3 3331.6C710.5 3327.9 718.8 3324.5 725.8 3319.8C732.9 3315.1 738.8 3310.4 744.6 3303.4C750.5 3296.3 756.0 3288.1 761.1 3277.5C766.2 3266.9 770.5 3253.6 775.2 3239.9C779.9 3226.2 785.0 3208.2 789.3 3195.2C793.6 3182.3 797.1 3170.5 801.1 3162.3C805.0 3154.1 809.1 3146.3 812.8 3145.9C816.6 3145.5 820.0 3150.2 823.6 3160.0C827.3 3169.8 831.0 3188.6 834.9 3204.6C838.8 3220.7 843.2 3242.3 847.1 3256.4C851.1 3270.5 854.2 3279.5 858.4 3289.3C862.7 3299.1 867.6 3308.1 872.5 3315.1C877.5 3322.2 882.3 3326.9 888.1 3331.6C893.8 3336.3 900.4 3340.8 906.9 3343.4C913.4 3345.9 920.4 3347.5 927.1 3347.1C933.7 3346.7 940.4 3344.0 946.8 3341.0C953.3 3338.0 959.4 3333.6 965.6 3329.2C971.9 3324.9 979.7 3319.1 984.5 3315.1C989.2 3311.2 990.3 3312.0 993.9 3305.7C997.4 3299.5 1001.8 3286.5 1005.6 3277.5C1009.4 3268.5 1013.1 3257.3 1016.4 3251.7C1019.8 3246.0 1022.5 3243.3 1025.8 3243.7C1029.1 3244.1 1032.5 3248.0 1036.2 3254.0C1039.9 3260.0 1044.0 3273.4 1047.9 3279.9C1051.8 3286.4 1055.4 3289.7 1059.7 3293.0C1064.0 3296.4 1069.1 3297.7 1073.8 3300.1C1078.5 3302.4 1084.0 3306.0 1087.9 3307.1C1091.8 3308.3 1094.2 3308.2 1097.3 3307.1C1100.4 3306.1 1103.2 3305.2 1106.7 3301.0C1110.2 3296.9 1114.8 3288.5 1118.5 3282.2C1122.1 3276.0 1125.9 3267.3 1128.8 3263.4C1131.7 3259.5 1133.3 3257.9 1135.9 3258.7C1138.4 3259.5 1141.0 3261.8 1144.3 3268.1C1147.7 3274.4 1151.8 3288.1 1156.1 3296.3C1160.4 3304.6 1165.5 3312.6 1170.2 3317.5C1174.9 3322.4 1178.7 3324.2 1184.3 3325.5C1189.9 3326.8 1199.6 3325.4 1203.8 3325.5C1207.9 3325.6 1206.1 3324.3 1209.4 3326.0C1212.7 3327.6 1218.0 3332.5 1223.5 3335.4C1229.0 3338.3 1236.4 3341.5 1242.3 3343.4C1248.2 3345.2 1252.9 3346.4 1258.8 3346.6C1264.7 3346.9 1271.7 3344.7 1277.6 3344.8C1283.5 3344.8 1289.6 3347.4 1294.0 3347.1C1298.5 3346.9 1300.9 3345.8 1304.4 3343.4C1307.9 3340.9 1311.4 3337.2 1315.2 3332.5C1319.0 3327.8 1323.0 3320.8 1327.0 3315.1C1330.9 3309.5 1334.8 3303.2 1338.7 3298.7C1342.6 3294.2 1346.6 3292.6 1350.5 3288.3C1354.4 3284.0 1357.9 3280.5 1362.2 3272.8C1366.5 3265.1 1371.6 3251.7 1376.3 3242.3C1381.0 3232.9 1386.1 3222.1 1390.4 3216.4C1394.7 3210.7 1398.3 3209.5 1402.2 3207.9C1406.1 3206.4 1410.0 3207.7 1413.9 3207.0C1417.9 3206.3 1421.8 3206.8 1425.7 3203.7C1429.6 3200.6 1433.9 3194.7 1437.5 3188.2C1441.0 3181.7 1443.7 3172.5 1446.9 3164.7C1450.0 3156.8 1453.1 3146.9 1456.3 3141.2C1459.4 3135.4 1462.5 3130.6 1465.7 3130.3C1468.8 3130.1 1471.9 3136.8 1475.1 3139.7C1478.2 3142.7 1481.0 3146.0 1484.5 3148.2C1488.0 3150.4 1492.3 3150.7 1496.2 3152.9C1500.2 3155.1 1504.1 3155.5 1508.0 3161.4C1511.9 3167.3 1515.8 3178.6 1519.7 3188.2C1523.7 3197.7 1528.0 3208.9 1531.5 3218.7C1535.0 3228.5 1537.8 3237.2 1540.9 3247.0C1544.0 3256.8 1546.9 3268.9 1550.3 3277.5C1553.7 3286.1 1557.2 3293.2 1561.1 3298.7C1565.0 3304.2 1569.0 3307.1 1573.8 3310.4C1578.7 3313.7 1584.4 3316.1 1590.3 3318.4C1596.2 3320.8 1603.2 3322.7 1609.1 3324.5C1615.0 3326.3 1620.5 3328.9 1625.5 3329.2C1630.6 3329.6 1635.0 3326.9 1639.7 3326.9C1644.4 3326.9 1649.5 3327.8 1653.8 3329.2C1658.1 3330.7 1661.6 3333.0 1665.5 3335.4C1669.4 3337.7 1673.7 3341.4 1677.3 3343.4C1680.8 3345.3 1681.6 3346.5 1686.7 3347.1C1691.8 3347.7 1700.4 3347.5 1707.8 3347.1C1715.3 3346.7 1723.5 3345.0 1731.3 3344.8C1739.2 3344.5 1747.2 3345.3 1754.9 3345.7C1762.5 3346.1 1773.7 3346.9 1777.4 3347.1"/>
<path d="M189.4 3551.2C199.6 3551.2 231.7 3551.2 250.5 3551.2C269.3 3551.2 291.3 3552.3 302.3 3551.2C313.2 3550.1 310.1 3549.2 316.4 3544.6C322.6 3540.0 332.0 3530.3 339.9 3523.4C347.7 3516.6 355.5 3509.5 363.4 3503.2C371.2 3497.0 379.5 3489.7 386.9 3485.8C394.3 3481.9 401.0 3480.2 408.1 3479.7C415.1 3479.2 421.8 3481.8 429.2 3483.0C436.7 3484.2 445.7 3485.0 452.7 3486.8C459.8 3488.6 465.3 3490.3 471.5 3493.8C477.8 3497.4 483.3 3502.4 490.3 3507.9C497.4 3513.4 506.8 3521.3 513.9 3526.7C520.9 3532.2 527.3 3537.1 532.7 3540.8C538.0 3544.6 541.9 3547.9 545.8 3549.3C549.7 3550.7 553.3 3550.1 556.2 3549.3C559.1 3548.5 560.9 3546.0 563.2 3544.6C565.6 3543.2 567.1 3541.5 570.3 3540.8C573.4 3540.2 578.5 3540.2 582.0 3540.8C585.6 3541.5 588.3 3543.0 591.4 3544.6C594.6 3546.2 595.0 3549.2 600.8 3550.3C606.7 3551.3 618.9 3551.0 626.7 3551.2C634.5 3551.3 644.3 3551.2 647.9 3551.2"/>
<path d="M676.5 3543.2C680.8 3541.5 694.1 3536.8 702.3 3532.9C710.5 3528.9 718.8 3524.6 725.8 3519.7C732.9 3514.7 738.8 3509.9 744.6 3503.2C750.5 3496.6 756.0 3489.5 761.1 3479.7C766.2 3469.9 770.5 3457.4 775.2 3444.5C779.9 3431.5 785.0 3414.7 789.3 3402.1C793.6 3389.6 797.0 3377.3 801.1 3369.2C805.1 3361.1 809.8 3354.1 813.8 3353.7C817.7 3353.3 820.8 3357.2 824.6 3366.9C828.3 3376.5 832.4 3395.9 836.3 3411.5C840.3 3427.2 844.2 3446.8 848.1 3460.9C852.0 3475.0 855.5 3486.0 859.8 3496.2C864.2 3506.4 869.2 3515.2 873.9 3522.0C878.7 3528.9 882.6 3532.8 888.1 3537.1C893.5 3541.4 900.4 3545.5 906.9 3547.9C913.4 3550.3 920.4 3551.6 927.1 3551.2C933.7 3550.8 940.4 3548.4 946.8 3545.5C953.3 3542.6 959.4 3537.9 965.6 3533.8C971.9 3529.6 979.7 3524.2 984.5 3520.6C989.2 3517.1 990.3 3518.7 993.9 3512.6C997.4 3506.6 1001.8 3493.0 1005.6 3484.4C1009.4 3475.8 1012.9 3466.4 1016.4 3460.9C1020.0 3455.4 1023.5 3451.5 1026.8 3451.5C1030.1 3451.5 1032.6 3455.0 1036.2 3460.9C1039.7 3466.8 1044.0 3480.5 1047.9 3486.8C1051.8 3493.0 1055.4 3495.4 1059.7 3498.5C1064.0 3501.7 1069.1 3503.2 1073.8 3505.6C1078.5 3507.9 1084.0 3511.3 1087.9 3512.6C1091.8 3514.0 1094.2 3514.4 1097.3 3513.6C1100.4 3512.8 1103.2 3512.0 1106.7 3507.9C1110.2 3503.9 1114.5 3495.4 1118.5 3489.1C1122.4 3482.9 1127.1 3474.2 1130.2 3470.3C1133.4 3466.4 1134.5 3464.8 1137.3 3465.6C1140.0 3466.4 1143.2 3468.7 1146.7 3475.0C1150.2 3481.3 1154.1 3495.2 1158.4 3503.2C1162.7 3511.2 1167.8 3518.7 1172.5 3523.0C1177.2 3527.3 1181.4 3528.4 1186.6 3529.1C1191.8 3529.8 1200.0 3527.4 1203.8 3527.2C1207.6 3527.0 1206.1 3526.2 1209.4 3527.7C1212.7 3529.2 1218.0 3533.3 1223.5 3536.1C1229.0 3539.0 1236.4 3542.5 1242.3 3544.6C1248.2 3546.7 1252.9 3548.3 1258.8 3548.8C1264.7 3549.4 1271.3 3547.7 1277.6 3547.9C1283.9 3548.1 1291.7 3550.4 1296.4 3550.3C1301.1 3550.1 1302.7 3549.3 1305.8 3547.0C1308.9 3544.6 1311.7 3541.1 1315.2 3536.1C1318.7 3531.2 1323.0 3522.8 1327.0 3517.3C1330.9 3511.8 1334.8 3506.8 1338.7 3503.2C1342.6 3499.7 1346.6 3499.7 1350.5 3496.2C1354.4 3492.6 1357.9 3489.1 1362.2 3482.1C1366.5 3475.0 1371.6 3462.1 1376.3 3453.9C1381.0 3445.6 1386.1 3437.4 1390.4 3432.7C1394.7 3428.0 1398.3 3426.8 1402.2 3425.6C1406.1 3424.5 1410.0 3426.2 1413.9 3425.6C1417.9 3425.1 1421.8 3425.5 1425.7 3422.4C1429.6 3419.2 1433.9 3413.3 1437.5 3406.8C1441.0 3400.3 1443.7 3391.0 1446.9 3383.3C1450.0 3375.6 1453.3 3365.6 1456.3 3360.8C1459.2 3355.9 1461.8 3353.7 1464.7 3354.2C1467.6 3354.6 1470.8 3360.4 1473.7 3363.6C1476.6 3366.7 1478.8 3370.5 1482.1 3373.0C1485.5 3375.5 1490.0 3376.5 1493.9 3378.6C1497.8 3380.7 1501.7 3380.2 1505.6 3385.7C1509.6 3391.2 1513.5 3402.5 1517.4 3411.5C1521.3 3420.5 1525.6 3430.7 1529.2 3439.7C1532.7 3448.8 1535.4 3456.6 1538.6 3465.6C1541.7 3474.6 1544.7 3485.6 1548.0 3493.8C1551.3 3502.1 1554.4 3509.5 1558.3 3515.0C1562.2 3520.5 1566.1 3523.2 1571.5 3526.7C1576.8 3530.3 1584.0 3533.2 1590.3 3536.1C1596.6 3539.1 1603.6 3542.5 1609.1 3544.6C1614.6 3546.7 1618.5 3548.7 1623.2 3548.8C1627.9 3549.0 1632.6 3546.3 1637.3 3545.5C1642.0 3544.8 1647.1 3544.3 1651.4 3544.1C1655.7 3544.0 1659.2 3543.8 1663.2 3544.6C1667.1 3545.4 1670.6 3547.7 1674.9 3548.8C1679.2 3550.0 1683.5 3551.0 1689.0 3551.7C1694.5 3552.3 1700.8 3552.7 1707.8 3552.6C1714.9 3552.5 1723.5 3551.7 1731.3 3551.2C1739.2 3550.6 1747.2 3549.6 1754.9 3549.3C1762.5 3549.0 1773.7 3549.3 1777.4 3549.3"/>
</g>
<text class="lb" transform="translate(193.0 2652.6) scale(0.9720 1)">1.2CMC</text>
<text class="lb" transform="translate(193.0 2869.0) scale(0.9720 1)">1.2Ag1</text>
<text class="lb" transform="translate(193.0 3099.4) scale(0.9720 1)">1.2Ag2</text>
<text class="lb" transform="translate(193.0 3323.2) scale(0.9720 1)">1.2Ag3</text>
<text class="lb" transform="translate(193.0 3526.3) scale(0.9720 1)">1.2Ag4</text>
<text class="pl" transform="translate(39.37 234.24) scale(0.9230 0.9805)">a</text>
<text class="pl" transform="translate(39.22 1452.64) scale(1.0110 0.9855)">b</text>
<text class="pl" transform="translate(44.90 2596.75) scale(1.0495 0.9729)">c</text>
<text class="yl" text-anchor="middle" transform="translate(162.8 648.1) rotate(-90) scale(1.0075 1)">Absorbance <tspan class="rg">(</tspan>a.u.<tspan class="rg">)</tspan></text>
<text class="yl" text-anchor="middle" transform="translate(160.9 1841.3) rotate(-90) scale(1.0075 1)">Absorbance <tspan class="rg">(</tspan>a.u.<tspan class="rg">)</tspan></text>
<text class="yl" text-anchor="middle" transform="translate(160.9 3038.5) rotate(-90) scale(1.0075 1)">Absorbance <tspan class="rg">(</tspan>a.u.<tspan class="rg">)</tspan></text>
<text class="tk" text-anchor="middle" x="188.0" y="3666.0">4000</text>
<text class="tk" text-anchor="middle" x="364.9" y="3666.0">3500</text>
<text class="tk" text-anchor="middle" x="542.6" y="3666.0">3000</text>
<text class="tk" text-anchor="middle" x="800.0" y="3666.0">1600</text>
<text class="tk" text-anchor="middle" x="1288.0" y="3666.0">1200</text>
<text class="tk" text-anchor="middle" x="1776.7" y="3666.0">800</text>
<text class="xl" transform="translate(662.0 3744.0) scale(1.0177 1)">Wavenumber <tspan class="rg">(</tspan>cm<tspan class="sup" x="585.8" y="-38.5" textLength="30.5" lengthAdjust="spacingAndGlyphs">-1</tspan><tspan class="rg" x="625.2" y="0">)</tspan></text>
</g>
</svg>
</body>
</html>
